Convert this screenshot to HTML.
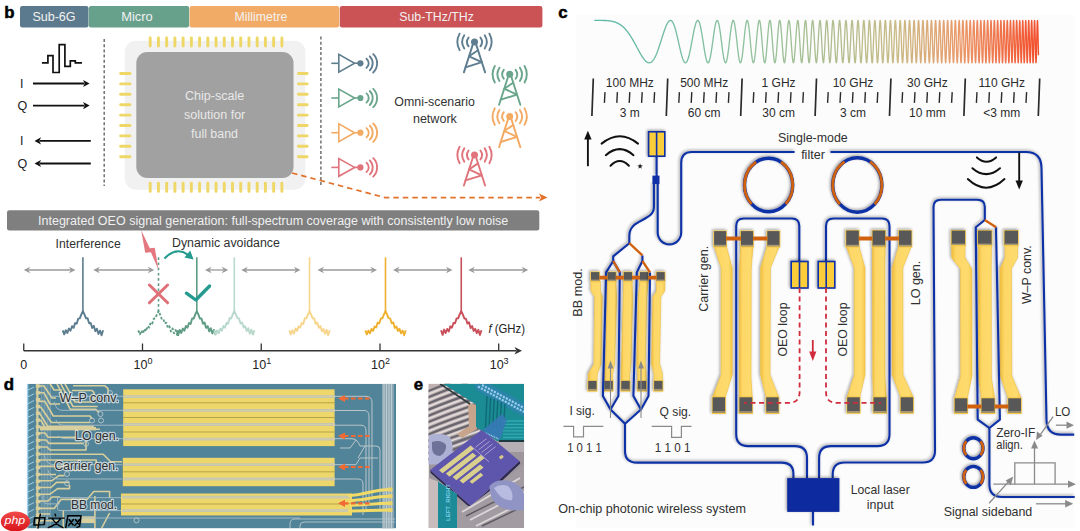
<!DOCTYPE html>
<html><head><meta charset="utf-8"><style>
html,body{margin:0;padding:0;background:#fff;width:1080px;height:531px;overflow:hidden}
svg{display:block;font-family:"Liberation Sans", sans-serif}
</style></head><body>
<svg width="1080" height="531" viewBox="0 0 1080 531">
<text x="4.2" y="17.7" font-size="16.8" font-weight="bold" fill="#000" stroke="#000" stroke-width="0.5">b</text>
<rect x="20" y="6" width="68.5" height="21.5" rx="2.2" fill="#5c7a8d"/>
<text x="54" y="21.4" font-size="12.5" fill="#f2f2f2" text-anchor="middle" textLength="43.2" lengthAdjust="spacingAndGlyphs">Sub-6G</text>
<rect x="88.8" y="6" width="100.4" height="21.5" rx="2.2" fill="#67a08b"/>
<text x="137" y="21.4" font-size="12.5" fill="#f2f2f2" text-anchor="middle" textLength="31.5" lengthAdjust="spacingAndGlyphs">Micro</text>
<rect x="189.6" y="6" width="149.7" height="21.5" rx="2.2" fill="#f2ab66"/>
<text x="261" y="21.4" font-size="12.5" fill="#f2f2f2" text-anchor="middle" textLength="52.8" lengthAdjust="spacingAndGlyphs">Millimetre</text>
<rect x="339.8" y="6" width="202.6" height="21.5" rx="2.2" fill="#cb5356"/>
<text x="436.6" y="21.4" font-size="12.5" fill="#f2f2f2" text-anchor="middle" textLength="74.6" lengthAdjust="spacingAndGlyphs">Sub-THz/THz</text>
<path d="M41.9,62.8H47.9V55.6H53V72.5H59.2V44.6H64.9V66.4H70.3V60.9H75.3V62.8H82" fill="none" stroke="#111" stroke-width="1.7"/>
<line x1="33" y1="83.5" x2="84.4" y2="83.5" stroke="#111" stroke-width="1.9"/>
<path d="M89.6,83.5L83.1,79.9L84.72,83.5L83.1,87.1Z" fill="#111"/>
<line x1="33" y1="105.6" x2="84.4" y2="105.6" stroke="#111" stroke-width="1.9"/>
<path d="M89.6,105.6L83.1,102L84.72,105.6L83.1,109.2Z" fill="#111"/>
<line x1="90.8" y1="140.9" x2="39.7" y2="140.9" stroke="#111" stroke-width="1.9"/>
<path d="M34.5,140.9L41,137.3L39.38,140.9L41,144.5Z" fill="#111"/>
<line x1="90.8" y1="163.5" x2="39.7" y2="163.5" stroke="#111" stroke-width="1.9"/>
<path d="M34.5,163.5L41,159.9L39.38,163.5L41,167.1Z" fill="#111"/>
<text x="21.8" y="87.8" font-size="12.5" fill="#222" text-anchor="middle">I</text>
<text x="22.3" y="110" font-size="12.5" fill="#222" text-anchor="middle">Q</text>
<text x="21.8" y="145.3" font-size="12.5" fill="#222" text-anchor="middle">I</text>
<text x="22.3" y="167.8" font-size="12.5" fill="#222" text-anchor="middle">Q</text>
<line x1="104.2" y1="39" x2="104.2" y2="186" stroke="#666" stroke-width="1.4" stroke-dasharray="3 2.2"/>
<line x1="320.9" y1="36.5" x2="320.9" y2="187" stroke="#666" stroke-width="1.4" stroke-dasharray="3 2.2"/>
<rect x="124.8" y="40.8" width="180.5" height="148.9" rx="11" fill="#f1f1f1"/>
<rect x="148.75" y="36.5" width="2.9" height="10.9" rx="1.4" fill="#eed767"/>
<rect x="148.75" y="181.8" width="2.9" height="11" rx="1.4" fill="#eed767"/>
<rect x="156.98" y="36.5" width="2.9" height="10.9" rx="1.4" fill="#eed767"/>
<rect x="156.98" y="181.8" width="2.9" height="11" rx="1.4" fill="#eed767"/>
<rect x="165.21" y="36.5" width="2.9" height="10.9" rx="1.4" fill="#eed767"/>
<rect x="165.21" y="181.8" width="2.9" height="11" rx="1.4" fill="#eed767"/>
<rect x="173.44" y="36.5" width="2.9" height="10.9" rx="1.4" fill="#eed767"/>
<rect x="173.44" y="181.8" width="2.9" height="11" rx="1.4" fill="#eed767"/>
<rect x="181.67" y="36.5" width="2.9" height="10.9" rx="1.4" fill="#eed767"/>
<rect x="181.67" y="181.8" width="2.9" height="11" rx="1.4" fill="#eed767"/>
<rect x="189.9" y="36.5" width="2.9" height="10.9" rx="1.4" fill="#eed767"/>
<rect x="189.9" y="181.8" width="2.9" height="11" rx="1.4" fill="#eed767"/>
<rect x="198.13" y="36.5" width="2.9" height="10.9" rx="1.4" fill="#eed767"/>
<rect x="198.13" y="181.8" width="2.9" height="11" rx="1.4" fill="#eed767"/>
<rect x="206.36" y="36.5" width="2.9" height="10.9" rx="1.4" fill="#eed767"/>
<rect x="206.36" y="181.8" width="2.9" height="11" rx="1.4" fill="#eed767"/>
<rect x="214.59" y="36.5" width="2.9" height="10.9" rx="1.4" fill="#eed767"/>
<rect x="214.59" y="181.8" width="2.9" height="11" rx="1.4" fill="#eed767"/>
<rect x="222.82" y="36.5" width="2.9" height="10.9" rx="1.4" fill="#eed767"/>
<rect x="222.82" y="181.8" width="2.9" height="11" rx="1.4" fill="#eed767"/>
<rect x="231.05" y="36.5" width="2.9" height="10.9" rx="1.4" fill="#eed767"/>
<rect x="231.05" y="181.8" width="2.9" height="11" rx="1.4" fill="#eed767"/>
<rect x="239.28" y="36.5" width="2.9" height="10.9" rx="1.4" fill="#eed767"/>
<rect x="239.28" y="181.8" width="2.9" height="11" rx="1.4" fill="#eed767"/>
<rect x="247.51" y="36.5" width="2.9" height="10.9" rx="1.4" fill="#eed767"/>
<rect x="247.51" y="181.8" width="2.9" height="11" rx="1.4" fill="#eed767"/>
<rect x="255.74" y="36.5" width="2.9" height="10.9" rx="1.4" fill="#eed767"/>
<rect x="255.74" y="181.8" width="2.9" height="11" rx="1.4" fill="#eed767"/>
<rect x="263.97" y="36.5" width="2.9" height="10.9" rx="1.4" fill="#eed767"/>
<rect x="263.97" y="181.8" width="2.9" height="11" rx="1.4" fill="#eed767"/>
<rect x="272.2" y="36.5" width="2.9" height="10.9" rx="1.4" fill="#eed767"/>
<rect x="272.2" y="181.8" width="2.9" height="11" rx="1.4" fill="#eed767"/>
<rect x="280.43" y="36.5" width="2.9" height="10.9" rx="1.4" fill="#eed767"/>
<rect x="280.43" y="181.8" width="2.9" height="11" rx="1.4" fill="#eed767"/>
<rect x="119.2" y="72.05" width="12.2" height="2.9" rx="1.4" fill="#eed767"/>
<rect x="297" y="72.05" width="11.6" height="2.9" rx="1.4" fill="#eed767"/>
<rect x="119.2" y="82.45" width="12.2" height="2.9" rx="1.4" fill="#eed767"/>
<rect x="297" y="82.45" width="11.6" height="2.9" rx="1.4" fill="#eed767"/>
<rect x="119.2" y="92.85" width="12.2" height="2.9" rx="1.4" fill="#eed767"/>
<rect x="297" y="92.85" width="11.6" height="2.9" rx="1.4" fill="#eed767"/>
<rect x="119.2" y="103.25" width="12.2" height="2.9" rx="1.4" fill="#eed767"/>
<rect x="297" y="103.25" width="11.6" height="2.9" rx="1.4" fill="#eed767"/>
<rect x="119.2" y="113.65" width="12.2" height="2.9" rx="1.4" fill="#eed767"/>
<rect x="297" y="113.65" width="11.6" height="2.9" rx="1.4" fill="#eed767"/>
<rect x="119.2" y="124.05" width="12.2" height="2.9" rx="1.4" fill="#eed767"/>
<rect x="297" y="124.05" width="11.6" height="2.9" rx="1.4" fill="#eed767"/>
<rect x="119.2" y="134.45" width="12.2" height="2.9" rx="1.4" fill="#eed767"/>
<rect x="297" y="134.45" width="11.6" height="2.9" rx="1.4" fill="#eed767"/>
<rect x="119.2" y="144.85" width="12.2" height="2.9" rx="1.4" fill="#eed767"/>
<rect x="297" y="144.85" width="11.6" height="2.9" rx="1.4" fill="#eed767"/>
<rect x="119.2" y="155.25" width="12.2" height="2.9" rx="1.4" fill="#eed767"/>
<rect x="297" y="155.25" width="11.6" height="2.9" rx="1.4" fill="#eed767"/>
<rect x="136.3" y="52" width="157.2" height="126" rx="11" fill="#a1a1a1"/>
<text x="214.6" y="100.2" font-size="12.5" fill="#e8e8e8" text-anchor="middle" textLength="59.4" lengthAdjust="spacingAndGlyphs">Chip-scale</text>
<text x="214.7" y="119.4" font-size="12.5" fill="#e8e8e8" text-anchor="middle" textLength="61.2" lengthAdjust="spacingAndGlyphs">solution for</text>
<text x="214.5" y="137.8" font-size="12.5" fill="#e8e8e8" text-anchor="middle" textLength="46.9" lengthAdjust="spacingAndGlyphs">full band</text>
<g fill="none" stroke="#5e7d8f" stroke-width="1.6" stroke-linecap="round"><line x1="331.3" y1="63.3" x2="338.8" y2="63.3" stroke-linecap="butt"/><path d="M338.8,54.4L338.8,72.2L354.6,63.3Z" stroke-linejoin="miter"/><line x1="354.6" y1="63.3" x2="359" y2="63.3"/>
<path d="M366.5,58.7A5.9,5.9 0 0 1 366.5,67.9" stroke-width="1.85"/>
<path d="M369.8,56.3A9.9,9.9 0 0 1 369.8,70.3" stroke-width="1.85"/>
<path d="M373.2,54.1A12.8,12.8 0 0 1 373.2,72.5" stroke-width="1.85"/>
</g>
<circle cx="360.4" cy="63.3" r="3.1" fill="#5e7d8f"/>
<g fill="none" stroke="#6aa68c" stroke-width="1.6" stroke-linecap="round"><line x1="331.3" y1="98" x2="338.8" y2="98" stroke-linecap="butt"/><path d="M338.8,89.1L338.8,106.9L354.6,98Z" stroke-linejoin="miter"/><line x1="354.6" y1="98" x2="359" y2="98"/>
<path d="M366.5,93.4A5.9,5.9 0 0 1 366.5,102.6" stroke-width="1.85"/>
<path d="M369.8,91A9.9,9.9 0 0 1 369.8,105" stroke-width="1.85"/>
<path d="M373.2,88.8A12.8,12.8 0 0 1 373.2,107.2" stroke-width="1.85"/>
</g>
<circle cx="360.4" cy="98" r="3.1" fill="#6aa68c"/>
<g fill="none" stroke="#f3aa62" stroke-width="1.6" stroke-linecap="round"><line x1="331.3" y1="132.7" x2="338.8" y2="132.7" stroke-linecap="butt"/><path d="M338.8,123.8L338.8,141.6L354.6,132.7Z" stroke-linejoin="miter"/><line x1="354.6" y1="132.7" x2="359" y2="132.7"/>
<path d="M366.5,128.1A5.9,5.9 0 0 1 366.5,137.3" stroke-width="1.85"/>
<path d="M369.8,125.7A9.9,9.9 0 0 1 369.8,139.7" stroke-width="1.85"/>
<path d="M373.2,123.5A12.8,12.8 0 0 1 373.2,141.9" stroke-width="1.85"/>
</g>
<circle cx="360.4" cy="132.7" r="3.1" fill="#f3aa62"/>
<g fill="none" stroke="#e0737b" stroke-width="1.6" stroke-linecap="round"><line x1="331.3" y1="167.4" x2="338.8" y2="167.4" stroke-linecap="butt"/><path d="M338.8,158.5L338.8,176.3L354.6,167.4Z" stroke-linejoin="miter"/><line x1="354.6" y1="167.4" x2="359" y2="167.4"/>
<path d="M366.5,162.8A5.9,5.9 0 0 1 366.5,172" stroke-width="1.85"/>
<path d="M369.8,160.4A9.9,9.9 0 0 1 369.8,174.4" stroke-width="1.85"/>
<path d="M373.2,158.2A12.8,12.8 0 0 1 373.2,176.6" stroke-width="1.85"/>
</g>
<circle cx="360.4" cy="167.4" r="3.1" fill="#e0737b"/>
<g fill="none" stroke="#5e7d8f" stroke-width="1.9" stroke-linecap="round"><path d="M472.7,44.9L463.9,72.4M476.3,44.9L485.1,72.4"/><path d="M478.03,50.3L469.05,56.3L481.84,62.2L465.53,67.3" stroke-linejoin="round"/><path d="M480.41,37.45A7.4,7.4 0 0 1 480.41,46.35"/><path d="M468.59,37.45A7.4,7.4 0 0 0 468.59,46.35"/><path d="M484.73,35.26A12.2,12.2 0 0 1 484.73,48.54"/><path d="M464.27,35.26A12.2,12.2 0 0 0 464.27,48.54"/><path d="M489.37,33.66A17,17 0 0 1 489.37,50.14"/><path d="M459.63,33.66A17,17 0 0 0 459.63,50.14"/></g><circle cx="474.5" cy="41.9" r="3.5" fill="#5e7d8f"/>
<g fill="none" stroke="#6aa68c" stroke-width="1.9" stroke-linecap="round"><path d="M507.9,77.3L499.1,104.8M511.5,77.3L520.3,104.8"/><path d="M513.23,82.7L504.25,88.7L517.04,94.6L500.73,99.7" stroke-linejoin="round"/><path d="M515.61,69.85A7.4,7.4 0 0 1 515.61,78.75"/><path d="M503.79,69.85A7.4,7.4 0 0 0 503.79,78.75"/><path d="M519.93,67.66A12.2,12.2 0 0 1 519.93,80.94"/><path d="M499.47,67.66A12.2,12.2 0 0 0 499.47,80.94"/><path d="M524.57,66.06A17,17 0 0 1 524.57,82.54"/><path d="M494.83,66.06A17,17 0 0 0 494.83,82.54"/></g><circle cx="509.7" cy="74.3" r="3.5" fill="#6aa68c"/>
<g fill="none" stroke="#f3aa62" stroke-width="1.9" stroke-linecap="round"><path d="M507.9,119.6L499.1,147.1M511.5,119.6L520.3,147.1"/><path d="M513.23,125L504.25,131L517.04,136.9L500.73,142" stroke-linejoin="round"/><path d="M515.61,112.15A7.4,7.4 0 0 1 515.61,121.05"/><path d="M503.79,112.15A7.4,7.4 0 0 0 503.79,121.05"/><path d="M519.93,109.96A12.2,12.2 0 0 1 519.93,123.24"/><path d="M499.47,109.96A12.2,12.2 0 0 0 499.47,123.24"/><path d="M524.57,108.36A17,17 0 0 1 524.57,124.84"/><path d="M494.83,108.36A17,17 0 0 0 494.83,124.84"/></g><circle cx="509.7" cy="116.6" r="3.5" fill="#f3aa62"/>
<g fill="none" stroke="#e0737b" stroke-width="1.9" stroke-linecap="round"><path d="M472.7,158L463.9,185.5M476.3,158L485.1,185.5"/><path d="M478.03,163.4L469.05,169.4L481.84,175.3L465.53,180.4" stroke-linejoin="round"/><path d="M480.41,150.55A7.4,7.4 0 0 1 480.41,159.45"/><path d="M468.59,150.55A7.4,7.4 0 0 0 468.59,159.45"/><path d="M484.73,148.36A12.2,12.2 0 0 1 484.73,161.64"/><path d="M464.27,148.36A12.2,12.2 0 0 0 464.27,161.64"/><path d="M489.37,146.76A17,17 0 0 1 489.37,163.24"/><path d="M459.63,146.76A17,17 0 0 0 459.63,163.24"/></g><circle cx="474.5" cy="155" r="3.5" fill="#e0737b"/>
<text x="434.6" y="105.6" font-size="12.5" fill="#333" text-anchor="middle" textLength="80.5" lengthAdjust="spacingAndGlyphs">Omni-scenario</text>
<text x="434.9" y="122.5" font-size="12.5" fill="#333" text-anchor="middle" textLength="44" lengthAdjust="spacingAndGlyphs">network</text>
<path d="M292,173L385,197.6H540" fill="none" stroke="#e2722c" stroke-width="1.7" stroke-dasharray="5.5 4"/>
<path d="M547.5,197.6L539,193.6L541,197.6L539,201.6Z" fill="#e2722c"/>
<rect x="7" y="210.2" width="532.3" height="20.3" rx="2.2" fill="#7f7f7f"/>
<text x="38" y="225.1" font-size="12.5" fill="#f0f0f0" textLength="470.3" lengthAdjust="spacingAndGlyphs">Integrated OEO signal generation: full-spectrum coverage with consistently low noise</text>
<text x="55.6" y="247.8" font-size="12.5" fill="#303030" textLength="65.1" lengthAdjust="spacingAndGlyphs">Interference</text>
<text x="172" y="247.4" font-size="12.5" fill="#303030" textLength="107.9" lengthAdjust="spacingAndGlyphs">Dynamic avoidance</text>
<line x1="23.75" y1="350.75" x2="516" y2="350.75" stroke="#333" stroke-width="1.3"/>
<path d="M522,350.75L514.5,347L516.5,350.75L514.5,354.5Z" fill="#333"/>
<line x1="23.75" y1="343.5" x2="23.75" y2="350.75" stroke="#333" stroke-width="1.3"/>
<line x1="142.5" y1="343.5" x2="142.5" y2="350.75" stroke="#333" stroke-width="1.3"/>
<line x1="261.25" y1="343.5" x2="261.25" y2="350.75" stroke="#333" stroke-width="1.3"/>
<line x1="380" y1="343.5" x2="380" y2="350.75" stroke="#333" stroke-width="1.3"/>
<line x1="498.7" y1="343.5" x2="498.7" y2="350.75" stroke="#333" stroke-width="1.3"/>
<text x="23.75" y="369" font-size="12.5" fill="#222" text-anchor="middle">0</text>
<text x="133.5" y="369" font-size="12.5" fill="#222">10<tspan dy="-5" font-size="9">0</tspan></text>
<text x="252.25" y="369" font-size="12.5" fill="#222">10<tspan dy="-5" font-size="9">1</tspan></text>
<text x="371" y="369" font-size="12.5" fill="#222">10<tspan dy="-5" font-size="9">2</tspan></text>
<text x="489.7" y="369" font-size="12.5" fill="#222">10<tspan dy="-5" font-size="9">3</tspan></text>
<text x="488.4" y="333.3" font-size="12.2" fill="#222" textLength="36.6" lengthAdjust="spacingAndGlyphs"><tspan font-style="italic">f</tspan> (GHz)</text>
<line x1="28.3" y1="270" x2="70.95" y2="270" stroke="#9a9a9a" stroke-width="1.3"/>
<path d="M23.75,270L30.25,266.7L28.3,270L30.25,273.3Z" fill="#9a9a9a"/>
<path d="M75.5,270L69,266.7L70.95,270L69,273.3Z" fill="#9a9a9a"/>
<line x1="97.8" y1="270" x2="149.7" y2="270" stroke="#9a9a9a" stroke-width="1.3"/>
<path d="M93.25,270L99.75,266.7L97.8,270L99.75,273.3Z" fill="#9a9a9a"/>
<path d="M154.25,270L147.75,266.7L149.7,270L147.75,273.3Z" fill="#9a9a9a"/>
<line x1="209.55" y1="270" x2="223.7" y2="270" stroke="#9a9a9a" stroke-width="1.3"/>
<path d="M205,270L211.5,266.7L209.55,270L211.5,273.3Z" fill="#9a9a9a"/>
<path d="M228.25,270L221.75,266.7L223.7,270L221.75,273.3Z" fill="#9a9a9a"/>
<line x1="245.8" y1="270" x2="295.95" y2="270" stroke="#9a9a9a" stroke-width="1.3"/>
<path d="M241.25,270L247.75,266.7L245.8,270L247.75,273.3Z" fill="#9a9a9a"/>
<path d="M300.5,270L294,266.7L295.95,270L294,273.3Z" fill="#9a9a9a"/>
<line x1="322.05" y1="270" x2="372.45" y2="270" stroke="#9a9a9a" stroke-width="1.3"/>
<path d="M317.5,270L324,266.7L322.05,270L324,273.3Z" fill="#9a9a9a"/>
<path d="M377,270L370.5,266.7L372.45,270L370.5,273.3Z" fill="#9a9a9a"/>
<line x1="397.55" y1="270" x2="447.95" y2="270" stroke="#9a9a9a" stroke-width="1.3"/>
<path d="M393,270L399.5,266.7L397.55,270L399.5,273.3Z" fill="#9a9a9a"/>
<path d="M452.5,270L446,266.7L447.95,270L446,273.3Z" fill="#9a9a9a"/>
<line x1="472.8" y1="270" x2="523.7" y2="270" stroke="#9a9a9a" stroke-width="1.3"/>
<path d="M468.25,270L474.75,266.7L472.8,270L474.75,273.3Z" fill="#9a9a9a"/>
<path d="M528.25,270L521.75,266.7L523.7,270L521.75,273.3Z" fill="#9a9a9a"/>
<g opacity="1"><path d="M62.7,330.3L64.25,334.37L65.81,330.14L67.36,333.03L68.92,328.57L70.47,330.73L72.02,326.22L73.58,327.85L75.13,323.03L76.68,323.69L78.24,318.6L79.79,318.32L81.35,314.33L82.9,311.3L82.9,311L82.9,311.3L84.45,314.33L86.01,318.38L87.56,318.14L89.12,323.3L90.67,322.91L92.22,327.93L93.78,325.71L95.33,331.21L96.88,328.68L98.44,333.98L99.99,330.55L101.55,335.24L103.1,330.3" fill="none" stroke="#5c7d8f" stroke-width="1.9" stroke-linejoin="round"/><line x1="82.9" y1="257.3" x2="82.9" y2="313" stroke="#5c7d8f" stroke-width="1.6"/></g>
<g opacity="1"><path d="M138.3,330.3L139.85,334.36L141.41,330.53L142.96,333.55L144.52,328.7L146.07,331.27L147.62,326.03L149.18,327.56L150.73,322.44L152.28,323.44L153.84,318.63L155.39,318.2L156.95,314.33L158.5,311.3L158.5,311L158.5,311.3L160.05,314.33L161.61,318.55L163.16,318.41L164.72,323.44L166.27,322.62L167.82,327.78L169.38,326.28L170.93,331.41L172.48,328.39L174.04,333.24L175.59,329.99L177.15,334.87L178.7,330.3" fill="none" stroke="#5f9c84" stroke-width="1.9" stroke-linejoin="round" stroke-dasharray="2.5 1.8"/><line x1="158.5" y1="257.3" x2="158.5" y2="313" stroke="#5f9c84" stroke-width="1.6" stroke-dasharray="2.6 2.6"/></g>
<g opacity="1"><path d="M176.6,330.3L178.15,335.14L179.71,329.89L181.26,333.03L182.82,328.59L184.37,330.82L185.92,325.88L187.48,327.75L189.03,322.99L190.58,323.93L192.14,318.51L193.69,318.58L195.25,314.33L196.8,311.3L196.8,311L196.8,311.3L198.35,314.33L199.91,318.67L201.46,318.49L203.02,323.72L204.57,322.62L206.12,327.89L207.68,326.14L209.23,331.45L210.78,328.15L212.34,333.47L213.89,329.9L215.45,334.36L217,330.3" fill="none" stroke="#5f9c84" stroke-width="1.9" stroke-linejoin="round"/><line x1="196.8" y1="257.3" x2="196.8" y2="313" stroke="#5f9c84" stroke-width="1.6"/></g>
<g opacity="1"><path d="M214.1,330.3L215.65,334.36L217.21,330.48L218.76,333.16L220.32,328.62L221.87,330.7L223.42,325.96L224.98,327.73L226.53,322.86L228.08,323.82L229.64,318.02L231.19,318.53L232.75,314.33L234.3,311.3L234.3,311L234.3,311.3L235.85,314.33L237.41,318.19L238.96,318.54L240.52,323.5L242.07,322.4L243.62,327.48L245.18,326.15L246.73,331.18L248.28,328.21L249.84,333.82L251.39,329.69L252.95,334.6L254.5,330.3" fill="none" stroke="#b9d9cd" stroke-width="1.9" stroke-linejoin="round"/><line x1="234.3" y1="257.3" x2="234.3" y2="313" stroke="#b9d9cd" stroke-width="1.6"/></g>
<g opacity="1"><path d="M289.3,330.3L290.85,334.3L292.41,330.32L293.96,333.59L295.52,328.59L297.07,330.89L298.62,326.34L300.18,327.55L301.73,322.96L303.28,323.91L304.84,318.1L306.39,318.34L307.95,314.33L309.5,311.3L309.5,311L309.5,311.3L311.05,314.33L312.61,318.35L314.16,318.32L315.72,323.91L317.27,322.54L318.82,327.83L320.38,326L321.93,331.3L323.48,329.01L325.04,333.9L326.59,329.77L328.15,335.26L329.7,330.3" fill="none" stroke="#f7d58c" stroke-width="1.9" stroke-linejoin="round"/><line x1="309.5" y1="257.3" x2="309.5" y2="313" stroke="#f7d58c" stroke-width="1.6"/></g>
<g opacity="1"><path d="M365.3,330.3L366.85,334.29L368.41,330.54L369.96,333.34L371.52,328.91L373.07,330.87L374.62,326.48L376.18,327.46L377.73,322.59L379.28,323.29L380.84,318.43L382.39,318.36L383.95,314.33L385.5,311.3L385.5,311L385.5,311.3L387.05,314.33L388.61,318.18L390.16,318.46L391.72,323.23L393.27,322.4L394.82,327.92L396.38,326.41L397.93,330.91L399.48,328.73L401.04,333.36L402.59,330.47L404.15,335.23L405.7,330.3" fill="none" stroke="#efb02f" stroke-width="1.9" stroke-linejoin="round"/><line x1="385.5" y1="257.3" x2="385.5" y2="313" stroke="#efb02f" stroke-width="1.6"/></g>
<g opacity="1"><path d="M441.05,330.3L442.6,334.87L444.16,329.59L445.71,333.01L447.27,328.91L448.82,331.44L450.37,326.31L451.93,327.69L453.48,323L455.03,323.27L456.59,318.37L458.14,318.41L459.7,314.33L461.25,311.3L461.25,311L461.25,311.3L462.8,314.33L464.36,318.46L465.91,318.69L467.47,323.6L469.02,322.32L470.57,328.12L472.13,325.93L473.68,330.92L475.23,328.71L476.79,333.16L478.34,329.78L479.9,334.88L481.45,330.3" fill="none" stroke="#c9505b" stroke-width="1.9" stroke-linejoin="round"/><line x1="461.25" y1="257.3" x2="461.25" y2="313" stroke="#c9505b" stroke-width="1.6"/></g>
<path d="M149.4,285L167.6,302.8M167.6,285L149.4,302.8" stroke="#e07078" stroke-width="3" stroke-linecap="round"/>
<path d="M186.4,293.2L195.8,300L209.6,286" fill="none" stroke="#259a8e" stroke-width="3.3" stroke-linecap="round" stroke-linejoin="round"/>
<path d="M141.2,230.3L149.8,248.3L154.8,247.8L158.4,269.6L150.9,252.3L145.2,252.7Z" fill="#e47880"/>
<path d="M164.4,258.5Q176,246.5 187.8,254.6" fill="none" stroke="#259a8e" stroke-width="2"/>
<path d="M193.6,259.6L184.4,257.6L190.2,250.6Z" fill="#259a8e"/>
<text x="3.7" y="389.5" font-size="16.8" font-weight="bold" fill="#000" stroke="#000" stroke-width="0.5">d</text>
<defs><clipPath id="cd"><rect x="26.8" y="383.8" width="369.2" height="144.6"/></clipPath></defs>
<g clip-path="url(#cd)">
<rect x="26.8" y="383.8" width="369.2" height="144.6" fill="#518399"/>
<line x1="27.6" y1="383.8" x2="27.6" y2="528.4" stroke="#9fd4ec" stroke-width="1.4"/>
<path d="M28,390L34,387M28,396.8L34,393.8M28,403.6L34,400.6M28,410.4L34,407.4M28,417.2L34,414.2M28,424L34,421M28,430.8L34,427.8M28,437.6L34,434.6M28,444.4L34,441.4M28,451.2L34,448.2M28,458L34,455M28,464.8L34,461.8M28,471.6L34,468.6M28,478.4L34,475.4M28,485.2L34,482.2M28,492L34,489M28,498.8L34,495.8M28,505.6L34,502.6M28,512.4L34,509.4M28,519.2L34,516.2M28,526L34,523M28,532.8L34,529.8" stroke="#a8d8ee" stroke-width="0.9" fill="none"/>
<path d="M41.5,384V528M43,384V528M44.5,384V528M46,384V528M47.5,384V528M49,384V528M50.5,384V528" stroke="#a9bfc8" stroke-width="0.5" fill="none" opacity="0.8"/>
<rect x="36.3" y="383.8" width="2.2" height="144.6" fill="#d9cf9c"/>
<rect x="35.8" y="384.4" width="4.6" height="3.2" fill="#d9cf9c"/><rect x="35.8" y="391.2" width="4.6" height="3.2" fill="#d9cf9c"/><rect x="35.8" y="398" width="4.6" height="3.2" fill="#d9cf9c"/><rect x="35.8" y="404.8" width="4.6" height="3.2" fill="#d9cf9c"/><rect x="35.8" y="411.6" width="4.6" height="3.2" fill="#d9cf9c"/><rect x="35.8" y="418.4" width="4.6" height="3.2" fill="#d9cf9c"/><rect x="35.8" y="425.2" width="4.6" height="3.2" fill="#d9cf9c"/><rect x="35.8" y="432" width="4.6" height="3.2" fill="#d9cf9c"/><rect x="35.8" y="438.8" width="4.6" height="3.2" fill="#d9cf9c"/><rect x="35.8" y="445.6" width="4.6" height="3.2" fill="#d9cf9c"/><rect x="35.8" y="452.4" width="4.6" height="3.2" fill="#d9cf9c"/><rect x="35.8" y="459.2" width="4.6" height="3.2" fill="#d9cf9c"/><rect x="35.8" y="466" width="4.6" height="3.2" fill="#d9cf9c"/><rect x="35.8" y="472.8" width="4.6" height="3.2" fill="#d9cf9c"/><rect x="35.8" y="479.6" width="4.6" height="3.2" fill="#d9cf9c"/><rect x="35.8" y="486.4" width="4.6" height="3.2" fill="#d9cf9c"/><rect x="35.8" y="493.2" width="4.6" height="3.2" fill="#d9cf9c"/><rect x="35.8" y="500" width="4.6" height="3.2" fill="#d9cf9c"/><rect x="35.8" y="506.8" width="4.6" height="3.2" fill="#d9cf9c"/><rect x="35.8" y="513.6" width="4.6" height="3.2" fill="#d9cf9c"/><rect x="35.8" y="520.4" width="4.6" height="3.2" fill="#d9cf9c"/>
<path d="M57,383.8L70.3,409.4H95.7L99,412.6M60.8,383.8L73,406.5H97.6M65,383.8L75,402H93M73,385.8H105L108,388.6V394M72,390.5H92L94,392.4V400M50,383.8L54,390H62M38,386H44L52,398H56M38,392.8H44L50,404H60M38,401.4H44.8L53.3,416H90L92,418.8M38,407.5H41L51.4,422.5H90M38,414H40L47.7,426.3H93.8M38,420.5H41L46,429.2H100M38,427H93.8M38,433H45L48,437.2H76.8M38,440H46L49,443.4H83.4M38,447H47L50,450H86V441M38,454.2H103.2L110.7,461.7H122M38,460H96.2V468M38,466.4H70L73,470H88M38,474.5H56M38,480.7H52L58.8,475.6H64.4M38,487.5H51L56.5,482.4H69M38,494.3H49.7L57.6,488.6H69.5V485M38,501H48L52,497H60M38,508.4H54.2L61,499.4H87L93.8,491.5H109.6V498M94.9,496V528M63.3,510V528M109.6,513L101.7,528M38,514H50M38,520.8H60" stroke="#d9cf9c" stroke-width="1.6" fill="none" stroke-linejoin="round"/>
<rect x="81.4" y="516.3" width="13.5" height="6.8" fill="#d9cf9c"/>
<rect x="40" y="427" width="56" height="3.4" fill="#d9cf9c"/>
<path d="M54.2,401.8Q56,410.3 62,410.3H123M50,396.3H123M56,420Q57,425.2 64,425.2H123M58,436Q60,438.7 66,438.7H123M44,455Q46,464.7 54,464.7H122M48,470Q50,479 58,479H122M43,494.9V500Q43,503.9 48,503.9H60M57.6,497.7H121M57.6,497.7V509.5Q57.6,510.6 62,510.6H121M36,518H300" stroke="#a9bec8" stroke-width="0.9" fill="none"/>
<circle cx="100.4" cy="414" r="2.5" fill="none" stroke="#b8c8cc" stroke-width="0.9"/>
<circle cx="101" cy="420.5" r="2.5" fill="none" stroke="#b8c8cc" stroke-width="0.9"/>
<circle cx="92" cy="420.5" r="2.5" fill="none" stroke="#b8c8cc" stroke-width="0.9"/>
<circle cx="86" cy="443.8" r="2.5" fill="none" stroke="#b8c8cc" stroke-width="0.9"/>
<circle cx="67" cy="474" r="2.5" fill="none" stroke="#b8c8cc" stroke-width="0.9"/>
<circle cx="67" cy="483.2" r="2.5" fill="none" stroke="#b8c8cc" stroke-width="0.9"/>
<circle cx="110" cy="393" r="2.5" fill="none" stroke="#b8c8cc" stroke-width="0.9"/>
<circle cx="136.5" cy="520.4" r="2.5" fill="none" stroke="#b8c8cc" stroke-width="0.9"/>
<rect x="123.2" y="389.3" width="211.4" height="56.8" fill="#edd66a"/>
<rect x="122.8" y="457.8" width="211.8" height="28.4" fill="#edd66a"/>
<path d="M121,493.4H352V515.5H121Z" fill="#edd66a"/>
<path d="M123,402.8H335M123,417.5H335M123,432H335M123,471.8H335M121,504H360" stroke="#b5a548" stroke-width="1" fill="none"/>
<path d="M123.5,396.6H335M123.5,410.4H335M123.5,424.5H335M123.5,439.1H335M123.5,464.7H335M123.5,479H335M122,497.2H350M122,510.6H350" stroke="#c5c6b2" stroke-width="2.8" fill="none"/>
<path d="M123.5,396.6H335M123.5,410.4H335M123.5,424.5H335M123.5,439.1H335M123.5,464.7H335M123.5,479H335M122,497.2H350M122,510.6H350" stroke="#d6d2a6" stroke-width="0.6" fill="none"/>
<path d="M335,396.3H366Q372,396.3 372,402V500M335,410.5H364Q369,410.5 369,416V505M335,425.2H361Q366,425.2 366,431V510M335,438.7H352Q356,438.7 358,442L360,446H376Q380,446 380,450V512M335,464.7H356L360,458H378M335,479H358Q363,479 363,484V515M340,448H350L356,440M365,446L358,458" stroke="#b9c6c9" stroke-width="1" fill="none"/>
<rect x="382" y="383.8" width="11.8" height="144.6" fill="#8fa9b5"/>
<path d="M384,384V528M386.5,384V528M389,384V528M391.5,384V528" stroke="#c8d4d8" stroke-width="0.8"/>
<path d="M348,495.5C365,495.5 372,489.5 390,489.5M348,500.5C365,500.5 372,496.3 390,496.3M348,505.5C365,505.5 372,503.2 390,503.2M348,511C365,511 372,510 390,510" stroke="#f1db66" stroke-width="3" fill="none"/>
<path d="M388,487.5h4.5v4h-4.5zM388,494.3h4.5v4h-4.5zM388,501.2h4.5v4h-4.5zM388,508h4.5v4h-4.5z" fill="#e9d36a"/>
<path d="M290,528V524Q290,519 295,519H395M300,528V526Q300,522 304,522H395" stroke="#b8c8cc" stroke-width="0.9" fill="none"/>
<line x1="344" y1="398.5" x2="372" y2="398.5" stroke="#f26a33" stroke-width="2.2" stroke-dasharray="4.5 2.5"/>
<path d="M338,398.5L345,394.9L345,402.1Z" fill="#f26a33"/>
<line x1="344" y1="436" x2="372" y2="436" stroke="#f26a33" stroke-width="2.2" stroke-dasharray="4.5 2.5"/>
<path d="M338,436L345,432.4L345,439.6Z" fill="#f26a33"/>
<line x1="344" y1="467" x2="372" y2="467" stroke="#f26a33" stroke-width="2.2" stroke-dasharray="4.5 2.5"/>
<path d="M338,467L345,463.4L345,470.6Z" fill="#f26a33"/>
<line x1="344" y1="503.3" x2="372" y2="503.3" stroke="#f26a33" stroke-width="2.2" stroke-dasharray="4.5 2.5"/>
<path d="M338,503.3L345,499.7L345,506.9Z" fill="#f26a33"/>
</g>
<text x="59.8" y="401.8" font-size="12.4" fill="#e8eef0" stroke="#e8eef0" stroke-width="2.4" stroke-linejoin="round" opacity="0.75" textLength="59.1" lengthAdjust="spacingAndGlyphs">W–P conv.</text>
<text x="59.8" y="401.8" font-size="12.4" fill="#2e2e2e" textLength="59.1" lengthAdjust="spacingAndGlyphs">W–P conv.</text>
<text x="75" y="440.3" font-size="12.4" fill="#e8eef0" stroke="#e8eef0" stroke-width="2.4" stroke-linejoin="round" opacity="0.75" textLength="44" lengthAdjust="spacingAndGlyphs">LO gen.</text>
<text x="75" y="440.3" font-size="12.4" fill="#2e2e2e" textLength="44" lengthAdjust="spacingAndGlyphs">LO gen.</text>
<text x="54.4" y="470.3" font-size="12.4" fill="#e8eef0" stroke="#e8eef0" stroke-width="2.4" stroke-linejoin="round" opacity="0.75" textLength="64" lengthAdjust="spacingAndGlyphs">Carrier gen.</text>
<text x="54.4" y="470.3" font-size="12.4" fill="#2e2e2e" textLength="64" lengthAdjust="spacingAndGlyphs">Carrier gen.</text>
<text x="70.9" y="508.7" font-size="12.4" fill="#e8eef0" stroke="#e8eef0" stroke-width="2.4" stroke-linejoin="round" opacity="0.75" textLength="46.3" lengthAdjust="spacingAndGlyphs">BB mod.</text>
<text x="70.9" y="508.7" font-size="12.4" fill="#2e2e2e" textLength="46.3" lengthAdjust="spacingAndGlyphs">BB mod.</text>
<text x="413.8" y="390.2" font-size="16.8" font-weight="bold" fill="#000" stroke="#000" stroke-width="0.5">e</text>
<defs><clipPath id="ce"><rect x="428.5" y="383.8" width="95.6" height="144.2"/></clipPath><linearGradient id="gsil" x1="0" y1="0" x2="1" y2="1"><stop offset="0" stop-color="#8e8a92"/><stop offset="1" stop-color="#c9c5c9"/></linearGradient></defs>
<g clip-path="url(#ce)">
<rect x="428.5" y="383.8" width="95.6" height="144.2" fill="#9d979d"/>
<path d="M428.5,383.8H440L470,403V430L452,440L428.5,452Z" fill="#bfb2b0"/>
<path d="M426,392Q450,382 480,372M426,398.2Q450,388.2 480,378.2M426,404.4Q450,394.4 480,384.4M426,410.6Q450,400.6 480,390.6M426,416.8Q450,406.8 480,396.8M426,423Q450,413 480,403M426,429.2Q450,419.2 480,409.2M426,435.4Q450,425.4 480,415.4M426,441.6Q450,431.6 480,421.6M426,447.8Q450,437.8 480,427.8M426,454Q450,444 480,434M426,460.2Q450,450.2 480,440.2" stroke="#6a6670" stroke-width="2.2" fill="none"/>
<path d="M426,395Q450,385 480,375M426,401.2Q450,391.2 480,381.2M426,407.4Q450,397.4 480,387.4M426,413.6Q450,403.6 480,393.6M426,419.8Q450,409.8 480,399.8M426,426Q450,416 480,406M426,432.2Q450,422.2 480,412.2M426,438.4Q450,428.4 480,418.4M426,444.6Q450,434.6 480,424.6M426,450.8Q450,440.8 480,430.8M426,457Q450,447 480,437M426,463.2Q450,453.2 480,443.2" stroke="#e2dcdc" stroke-width="1.6" fill="none"/>
<path d="M468,403L477,405V429L462,438L457,434L469,426Z" fill="#c7a58c"/><path d="M440,383.8L470,404" stroke="#2c3a3c" stroke-width="1.6" fill="none"/>
<path d="M443,383.8H524.1V441H497L476,427V404.6Z" fill="#1b8b94"/>
<path d="M474,384H490L524,403V417L476,390Z" fill="#3f7fc4" opacity="0.45"/>
<path d="M478,386.5L524,412M482,385L524,408" stroke="#9ccbf0" stroke-width="2.2" stroke-dasharray="2.2 1.2" fill="none"/>
<path d="M487,396L485.5,428M490.6,397.5L489.1,428M494.2,399L492.7,428M497.8,400.5L496.3,428M501.4,402L499.9,428M505,403.5L503.5,428" stroke="#0f6a75" stroke-width="1.4" fill="none"/>
<path d="M503,421H524M503,424.3H524M503,427.6H524M503,430.9H524M503,434.2H524M503,437.5H524" stroke="#30aab2" stroke-width="1.3" fill="none"/>
<path d="M484,429L502,414L507,420L500,440L487,436Z" fill="#3a78b8" opacity="0.85"/>
<path d="M481,431L499,439" stroke="#a8c8e8" stroke-width="1.5" stroke-dasharray="1 0.8"/>
<rect x="499" y="440" width="26" height="2" fill="#1c3a40"/><rect x="499" y="442" width="26" height="10" fill="#b6b0b4"/>
<path d="M428.5,436Q440,431 450,437Q455,448 451,460Q440,466 428.5,464Z" fill="#adb1d4"/>
<path d="M432,442Q441,439 446,445Q447,452 440,456Q433,456 432,449Z" fill="#6e7298"/>
<path d="M430.1,470.1L471,506L519.5,460.9L520.3,463.4L471.8,509.2L430.6,473.1Z" fill="#2e2a52"/>
<path d="M430.1,470.1L481.9,429.8L519.5,460.9L471,506Z" fill="#5e55ac"/>
<path d="M439.03,470.13L470.63,445.57L474.22,448.76L442.62,473.32ZM445.84,473.55L472.7,452.68L476.3,455.87L449.44,476.74ZM452.66,476.97L481.1,454.87L484.69,458.06L456.25,480.16ZM459.48,480.39L480.02,464.43L483.61,467.62L463.07,483.58ZM469.57,481.46L480.62,472.86L483.24,475.19L472.18,483.78Z" fill="#d9d08e"/>
<path d="M475.5,447.27L486.56,438.67M478.49,449.92L489.55,441.33M481.48,452.58L492.54,443.98M484.48,455.24L495.54,446.64M470.93,445.84L488.88,461.78" stroke="#b8a8d8" stroke-width="0.9" fill="none"/>
<rect x="499.35" y="455.56" width="4" height="3" fill="#d8c888" transform="rotate(-38 501.35 457.06)"/>
<path d="M428.5,478L438,481.5L457,494V528H428.5Z" fill="#c9bcbc"/>
<path d="M438,481.5L457,494V528H438Z" fill="#1c8a97"/>
<text x="0" y="0" font-size="6" fill="#7fd0ea" transform="translate(450 521) rotate(-90)" font-weight="bold">LEFT_RIGHT</text>
<path d="M457,528V505L470,506L522,466H524.1V528Z" fill="#a29ca2"/>
<path d="M470,520L524,492M476,526L524,502M462,512L520,478" stroke="#dcd6d8" stroke-width="1.8" fill="none"/><path d="M466,516L524,487M482,526L524,506" stroke="#5e5a62" stroke-width="1.4" fill="none"/>
<path d="M489.5,486Q496,478 510,481Q524,486 524,496V510Q512,512 500,507Q489,500 489.5,486Z" fill="#9094c4"/>
<path d="M494,488Q500,483 508,486Q514,492 512,500Q502,502 494,488Z" fill="#b8bce0"/>
</g>
<defs><linearGradient id="gphp" x1="0" y1="0" x2="0" y2="1"><stop offset="0" stop-color="#f04a4a"/><stop offset="1" stop-color="#d8141a"/></linearGradient></defs>
<ellipse cx="15.4" cy="521.5" rx="14.6" ry="10" fill="url(#gphp)"/>
<text x="4.6" y="524" font-size="11.5" font-style="italic" fill="#fff" textLength="20.6" lengthAdjust="spacingAndGlyphs">php</text>
<g fill="none" stroke="#000" stroke-width="1.45" stroke-linecap="round" stroke-linejoin="round"><path d="M34.6,518L45,517.6L44.2,524.6L33.8,525Z M40.3,514.2L38,528"/><path d="M55.1,514.2L55.6,515.8 M48.6,518.1H64.4 M52.2,518.3Q55,524 63,527.6 M60.6,518.3Q57,524.5 48.2,527.6"/><path d="M67.8,515.8L65.8,527.6 M67.8,515.8H81 L79.6,526.4 L77,527.4 M69,519.5L73.2,525 M73.4,519.5L68.6,525.6 M75.4,519.5L79.4,524.6 M79.6,519.5L74.8,525.6"/></g>
<rect x="576" y="14.7" width="498" height="513.5" fill="#fcfcfc"/>
<text x="558.2" y="18" font-size="16.8" font-weight="bold" fill="#000" stroke="#000" stroke-width="0.5">c</text>
<defs><linearGradient id="gch" x1="594" y1="0" x2="1039" y2="0" gradientUnits="userSpaceOnUse"><stop offset="0" stop-color="#5ab8a8"/><stop offset="0.35" stop-color="#92c29e"/><stop offset="0.68" stop-color="#c9bb86"/><stop offset="0.82" stop-color="#eb9a6a"/><stop offset="0.92" stop-color="#f07048"/><stop offset="1" stop-color="#f24e2a"/></linearGradient><linearGradient id="gst" x1="0" y1="0" x2="1" y2="0"><stop offset="0" stop-color="#f0bd3c"/><stop offset="0.22" stop-color="#fdd767"/><stop offset="0.8" stop-color="#fedb6e"/><stop offset="1" stop-color="#f4c74a"/></linearGradient><filter id="sh" x="-20%" y="-20%" width="140%" height="140%"><feGaussianBlur in="SourceAlpha" stdDeviation="1.6"/><feOffset dx="-0.8" dy="-0.6" result="b"/><feComponentTransfer><feFuncA type="linear" slope="0.4"/></feComponentTransfer><feMerge><feMergeNode/><feMergeNode in="SourceGraphic"/></feMerge></filter></defs>
<path d="M594.30,20.4L594.80,20.4L595.30,20.4L595.80,20.4L596.30,20.4L596.80,20.4L597.30,20.4L597.80,20.4L598.30,20.4L598.80,20.4L599.30,20.4L599.80,20.4L600.30,20.4L600.80,20.4L601.30,20.4L601.80,20.4L602.30,20.4L602.80,20.4L603.30,20.5L603.80,20.5L604.30,20.5L604.80,20.5L605.30,20.5L605.80,20.5L606.30,20.6L606.80,20.6L607.30,20.6L607.80,20.7L608.30,20.7L608.80,20.8L609.30,20.8L609.80,20.9L610.30,21.0L610.80,21.1L611.30,21.1L611.80,21.2L612.30,21.3L612.80,21.5L613.30,21.6L613.80,21.7L614.30,21.9L614.80,22.0L615.30,22.2L615.80,22.4L616.30,22.6L616.80,22.8L617.30,23.0L617.80,23.2L618.30,23.5L618.80,23.8L619.30,24.1L619.80,24.4L620.30,24.7L620.80,25.1L621.30,25.4L621.80,25.8L622.30,26.2L622.80,26.6L623.30,27.1L623.80,27.6L624.30,28.1L624.80,28.6L625.30,29.1L625.80,29.7L626.30,30.2L626.80,30.9L627.30,31.5L627.80,32.1L628.30,32.8L628.80,33.5L629.30,34.2L629.80,35.0L630.30,35.7L630.80,36.5L631.30,37.3L631.80,38.1L632.30,38.9L632.80,39.8L633.30,40.7L633.80,41.6L634.30,42.4L634.80,43.3L635.30,44.3L635.80,45.2L636.30,46.1L636.80,47.0L637.30,48.0L637.80,48.9L638.30,49.8L638.80,50.7L639.30,51.7L639.80,52.6L640.30,53.4L640.80,54.3L641.30,55.1L641.80,56.0L642.30,56.7L642.80,57.5L643.30,58.2L643.80,58.9L644.30,59.5L644.80,60.1L645.30,60.7L645.80,61.2L646.30,61.6L646.80,62.0L647.30,62.3L647.80,62.5L648.30,62.7L648.80,62.8L649.30,62.8L649.80,62.7L650.30,62.6L650.80,62.4L651.30,62.1L651.80,61.7L652.30,61.2L652.80,60.7L653.30,60.0L653.80,59.3L654.30,58.5L654.80,57.6L655.30,56.6L655.80,55.6L656.30,54.4L656.80,53.2L657.30,51.9L657.80,50.6L658.30,49.2L658.80,47.8L659.30,46.3L659.80,44.8L660.30,43.2L660.80,41.6L661.30,40.0L661.80,38.4L662.30,36.8L662.80,35.3L663.30,33.7L663.80,32.2L664.30,30.7L664.80,29.3L665.30,28.0L665.80,26.7L666.30,25.5L666.80,24.4L667.30,23.5L667.80,22.6L668.30,21.9L668.80,21.3L669.30,20.9L669.80,20.6L670.30,20.4L670.80,20.4L671.30,20.6L671.80,21.0L672.30,21.6L672.80,22.4L673.30,23.4L673.80,24.5L674.30,25.8L674.80,27.3L675.30,29.0L675.80,30.7L676.30,32.7L676.80,34.7L677.30,36.8L677.80,39.0L678.30,41.2L678.80,43.4L679.30,45.7L679.80,47.9L680.30,50.0L680.80,52.1L681.30,54.1L681.80,55.9L682.30,57.5L682.80,59.0L683.30,60.3L683.80,61.3L684.30,62.1L684.80,62.6L685.30,62.8L685.80,62.7L686.30,62.4L686.80,61.7L687.30,60.8L687.80,59.6L688.30,58.1L688.80,56.3L689.30,54.3L689.80,52.2L690.30,49.8L690.80,47.3L691.30,44.7L691.80,42.0L692.30,39.3L692.80,36.6L693.30,34.0L693.80,31.5L694.30,29.1L694.80,27.0L695.30,25.1L695.80,23.4L696.30,22.1L696.80,21.2L697.30,20.6L697.80,20.4L698.30,20.6L698.80,21.3L699.30,22.4L699.80,23.9L700.30,25.8L700.80,28.0L701.30,30.6L701.80,33.5L702.30,36.5L702.80,39.7L703.30,42.9L703.80,46.2L704.30,49.3L704.80,52.3L705.30,55.0L705.80,57.4L706.30,59.5L706.80,61.1L707.30,62.2L707.80,62.7L708.30,62.7L708.80,62.2L709.30,61.1L709.80,59.4L710.30,57.3L710.80,54.7L711.30,51.7L711.80,48.4L712.30,44.9L712.80,41.2L713.30,37.6L713.80,34.1L714.30,30.7L714.80,27.7L715.30,25.1L715.80,23.0L716.30,21.5L716.80,20.6L717.30,20.4L717.80,20.9L718.30,22.1L718.80,23.9L719.30,26.3L719.80,29.3L720.30,32.7L720.80,36.4L721.30,40.3L721.80,44.3L722.30,48.3L722.80,52.0L723.30,55.3L723.80,58.1L724.30,60.4L724.80,61.9L725.30,62.7L725.80,62.7L726.30,61.8L726.80,60.2L727.30,57.8L727.80,54.7L728.30,51.1L728.80,47.1L729.30,42.8L729.80,38.5L730.30,34.2L730.80,30.3L731.30,26.8L731.80,24.0L732.30,21.9L732.80,20.7L733.30,20.4L733.80,21.1L734.30,22.7L734.80,25.1L735.30,28.3L735.80,32.1L736.30,36.4L736.80,40.9L737.30,45.5L737.80,50.0L738.30,54.0L738.80,57.5L739.30,60.2L739.80,62.0L740.30,62.8L740.80,62.5L741.30,61.2L741.80,58.8L742.30,55.6L742.80,51.6L743.30,47.0L743.80,42.2L744.30,37.3L744.80,32.6L745.30,28.4L745.80,24.9L746.30,22.3L746.80,20.8L747.30,20.4L747.80,21.3L748.30,23.5L748.80,26.7L749.05,28.7L749.30,30.9L749.55,33.3L749.80,35.8L750.05,38.4L750.30,41.1L750.55,43.8L750.80,46.4L751.05,49.0L751.30,51.5L751.55,53.8L751.80,55.9L752.05,57.8L752.30,59.4L752.55,60.7L752.80,61.7L753.05,62.4L753.30,62.8L753.55,62.7L753.80,62.4L754.05,61.6L754.30,60.6L754.55,59.2L754.80,57.4L755.05,55.5L755.30,53.2L755.55,50.8L755.80,48.2L756.05,45.4L756.30,42.6L756.55,39.8L756.80,37.0L757.05,34.3L757.30,31.7L757.55,29.3L757.80,27.1L758.05,25.1L758.30,23.5L758.55,22.1L758.80,21.2L759.05,20.6L759.30,20.4L759.55,20.6L759.80,21.2L760.05,22.3L760.30,23.7L760.55,25.5L760.80,27.7L761.05,30.1L761.30,32.8L761.55,35.6L761.80,38.6L762.05,41.7L762.30,44.7L762.55,47.8L762.80,50.6L763.05,53.3L763.30,55.8L763.55,57.9L763.80,59.7L764.05,61.1L764.30,62.1L764.55,62.7L764.80,62.8L765.05,62.4L765.30,61.6L765.55,60.3L765.80,58.6L766.05,56.5L766.30,54.1L766.55,51.3L766.80,48.4L767.05,45.3L767.30,42.1L767.55,38.9L767.80,35.7L768.05,32.7L768.30,29.9L768.55,27.3L768.80,25.1L769.05,23.3L769.30,21.8L769.55,20.9L769.80,20.4L770.05,20.5L770.30,21.0L770.55,22.1L770.80,23.6L771.05,25.5L771.30,27.9L771.55,30.6L771.80,33.5L772.05,36.7L772.30,39.9L772.55,43.3L772.80,46.6L773.05,49.8L773.30,52.7L773.55,55.4L773.80,57.8L774.05,59.8L774.30,61.3L774.55,62.3L774.80,62.8L775.05,62.7L775.30,62.1L775.55,61.0L775.80,59.3L776.05,57.2L776.30,54.7L776.55,51.8L776.80,48.7L777.05,45.3L777.30,41.9L777.55,38.4L777.80,35.1L778.05,31.8L778.30,28.9L778.55,26.3L778.80,24.1L779.05,22.3L779.30,21.1L779.55,20.5L779.80,20.4L780.05,21.0L780.30,22.0L780.55,23.7L780.80,25.8L781.05,28.3L781.30,31.3L781.55,34.5L781.80,37.9L782.05,41.4L782.30,45.0L782.55,48.5L782.80,51.7L783.05,54.7L783.30,57.3L783.55,59.5L783.80,61.2L784.05,62.3L784.30,62.8L784.55,62.7L784.80,61.9L785.05,60.6L785.30,58.7L785.55,56.3L785.80,53.5L786.05,50.3L786.30,46.8L786.55,43.2L786.80,39.5L787.05,35.9L787.30,32.4L787.55,29.3L787.80,26.4L788.05,24.1L788.30,22.3L788.55,21.0L788.80,20.5L789.05,20.5L789.30,21.2L789.55,22.5L789.80,24.3L790.05,26.7L790.30,29.5L790.55,32.7L790.80,36.1L791.05,39.7L791.30,43.4L791.55,47.1L791.80,50.5L792.05,53.7L792.30,56.6L792.55,59.0L792.80,60.8L793.05,62.1L793.30,62.7L793.55,62.7L793.80,62.0L794.05,60.7L794.30,58.8L794.55,56.3L794.80,53.4L795.05,50.1L795.30,46.5L795.55,42.7L795.80,38.9L796.05,35.2L796.30,31.7L796.55,28.5L796.80,25.7L797.05,23.5L797.30,21.8L797.55,20.7L797.80,20.4L798.05,20.8L798.30,22.0L798.55,24.1L798.80,26.8L799.05,30.1L799.30,33.8L799.55,37.9L799.80,42.2L800.05,46.4L800.30,50.4L800.55,54.1L800.80,57.3L801.05,59.8L801.30,61.6L801.55,62.6L801.80,62.7L802.05,62.0L802.30,60.3L802.55,57.9L802.80,54.8L803.05,51.2L803.30,47.1L803.55,42.8L803.80,38.4L804.05,34.1L804.30,30.2L804.55,26.8L804.80,23.9L805.05,21.9L805.30,20.7L805.55,20.4L805.80,21.1L806.05,22.7L806.30,25.3L806.55,28.6L806.80,32.5L807.05,36.8L807.30,41.4L807.55,46.0L807.80,50.4L808.05,54.4L808.30,57.8L808.55,60.4L808.80,62.1L809.05,62.8L809.30,62.5L809.55,61.1L809.80,58.8L810.05,55.7L810.30,51.8L810.55,47.4L810.80,42.7L811.05,38.0L811.30,33.4L811.55,29.3L811.80,25.7L812.05,23.0L812.30,21.2L812.55,20.4L812.80,20.7L813.05,21.9L813.30,23.9L813.55,26.7L813.80,30.1L814.05,34.1L814.30,38.4L814.55,42.8L814.80,47.2L815.05,51.3L815.30,55.1L815.55,58.2L815.80,60.6L816.05,62.1L816.30,62.8L816.55,62.5L816.80,61.2L817.05,59.1L817.30,56.1L817.55,52.5L817.80,48.4L818.05,44.0L818.30,39.5L818.55,35.0L818.80,30.8L819.05,27.2L819.30,24.2L819.55,22.0L819.80,20.7L820.05,20.4L820.30,21.2L820.55,23.0L820.80,25.9L821.05,29.5L821.30,33.9L821.55,38.6L821.80,43.5L822.05,48.3L822.30,52.8L822.55,56.6L822.80,59.7L823.05,61.7L823.30,62.7L823.55,62.6L823.80,61.2L824.05,58.8L824.30,55.5L824.55,51.3L824.80,46.6L825.05,41.7L825.30,36.7L825.55,32.0L825.80,27.8L826.05,24.4L826.30,21.9L826.55,20.6L826.80,20.5L827.05,21.6L827.30,23.9L827.55,27.3L827.80,31.6L828.05,36.4L828.30,41.6L828.55,46.8L828.80,51.7L829.05,55.9L829.30,59.3L829.55,61.6L829.80,62.7L830.05,62.5L830.17,61.9L830.29,61.1L830.41,59.9L830.53,58.5L830.65,56.9L830.77,55.0L830.89,52.9L831.01,50.7L831.13,48.3L831.25,45.8L831.37,43.3L831.49,40.7L831.61,38.2L831.73,35.7L831.85,33.3L831.97,31.0L832.09,28.8L832.21,26.9L832.33,25.1L832.45,23.6L832.57,22.4L832.69,21.4L832.94,20.4L833.19,20.7L833.44,22.2L833.69,24.7L833.94,28.1L834.19,32.3L834.44,37.0L834.69,42.0L834.94,46.9L835.19,51.6L835.44,55.7L835.69,59.0L835.94,61.4L836.19,62.6L836.44,62.7L836.69,61.5L836.94,59.3L837.19,56.0L837.44,51.8L837.69,47.1L837.94,42.1L838.19,37.0L838.44,32.2L838.69,28.0L838.94,24.5L839.19,22.0L839.44,20.6L839.69,20.5L839.94,21.6L840.19,23.9L840.44,27.3L840.69,31.5L840.94,36.3L841.19,41.4L841.44,46.6L841.69,51.4L841.94,55.7L842.19,59.1L842.44,61.5L842.69,62.7L842.94,62.6L843.19,61.2L843.44,58.6L843.69,55.0L843.94,50.5L844.19,45.5L844.44,40.3L844.69,35.1L844.81,32.7L844.93,30.5L845.05,28.4L845.17,26.5L845.29,24.8L845.41,23.4L845.53,22.2L845.65,21.3L845.77,20.7L845.89,20.4L846.01,20.4L846.13,20.8L846.25,21.4L846.37,22.3L846.49,23.5L846.61,25.0L846.73,26.7L846.85,28.6L846.97,30.8L847.09,33.0L847.21,35.5L847.33,38.0L847.45,40.5L847.57,43.1L847.69,45.7L847.81,48.2L847.93,50.6L848.05,52.8L848.17,54.9L848.29,56.9L848.41,58.5L848.53,60.0L848.65,61.1L848.77,62.0L848.89,62.5L849.01,62.8L849.13,62.7L849.25,62.3L849.37,61.6L849.49,60.6L849.61,59.3L849.73,57.7L849.85,55.9L849.97,53.9L850.09,51.7L850.21,49.3L850.33,46.8L850.45,44.2L850.57,41.6L850.69,39.0L850.81,36.4L850.93,33.9L851.05,31.5L851.17,29.3L851.29,27.3L851.41,25.4L851.53,23.9L851.65,22.6L851.77,21.5L851.89,20.8L852.01,20.5L852.13,20.4L852.25,20.7L852.37,21.3L852.49,22.2L852.61,23.5L852.73,25.0L852.85,26.7L852.97,28.7L853.09,31.0L853.21,33.3L853.33,35.8L853.45,38.4L853.57,41.1L853.69,43.8L853.81,46.4L853.93,49.0L854.05,51.4L854.17,53.7L854.29,55.8L854.41,57.6L854.53,59.3L854.65,60.6L854.77,61.6L854.89,62.4L855.01,62.7L855.13,62.8L855.25,62.5L855.37,61.8L855.49,60.9L855.61,59.6L855.73,58.1L855.85,56.2L855.97,54.2L856.09,51.9L856.21,49.4L856.33,46.9L856.45,44.2L856.57,41.5L856.69,38.8L856.81,36.2L856.93,33.6L857.05,31.1L857.17,28.9L857.29,26.8L857.41,25.0L857.53,23.4L857.65,22.2L857.77,21.3L857.89,20.7L858.01,20.4L858.13,20.5L858.25,21.0L858.37,21.7L858.49,22.9L858.61,24.3L858.73,26.0L858.85,28.0L858.97,30.2L859.09,32.6L859.21,35.2L859.33,37.8L859.45,40.6L859.57,43.3L859.69,46.0L859.81,48.7L859.93,51.2L860.05,53.6L860.17,55.8L860.29,57.7L860.41,59.3L860.53,60.7L860.65,61.7L860.77,62.4L860.89,62.8L861.01,62.7L861.13,62.4L861.25,61.6L861.37,60.5L861.49,59.1L861.61,57.4L861.73,55.4L861.85,53.2L861.97,50.8L862.09,48.2L862.21,45.5L862.33,42.8L862.45,40.0L862.57,37.2L862.69,34.5L862.81,32.0L862.93,29.6L863.05,27.4L863.17,25.4L863.29,23.8L863.41,22.4L863.53,21.4L863.65,20.7L863.77,20.4L863.89,20.5L864.01,20.9L864.13,21.7L864.25,22.9L864.37,24.4L864.49,26.2L864.61,28.3L864.73,30.6L864.85,33.1L864.97,35.7L865.09,38.5L865.21,41.3L865.33,44.1L865.45,46.9L865.57,49.6L865.69,52.1L865.81,54.5L865.93,56.6L866.05,58.5L866.17,60.1L866.29,61.3L866.41,62.2L866.53,62.7L866.65,62.8L866.77,62.5L866.89,61.9L867.01,60.9L867.13,59.5L867.25,57.9L867.37,55.9L867.49,53.6L867.61,51.2L867.73,48.5L867.85,45.8L867.97,42.9L868.09,40.1L868.21,37.2L868.33,34.4L868.45,31.8L868.57,29.4L868.69,27.1L868.81,25.2L868.93,23.5L869.05,22.2L869.17,21.2L869.29,20.6L869.41,20.4L869.53,20.6L869.65,21.2L869.77,22.1L869.89,23.5L870.01,25.1L870.13,27.1L870.25,29.3L870.37,31.8L870.49,34.5L870.61,37.3L870.73,40.2L870.85,43.1L870.97,46.0L871.09,48.8L871.21,51.4L871.33,53.9L871.45,56.2L871.57,58.1L871.69,59.8L871.81,61.1L871.93,62.1L872.05,62.6L872.17,62.8L872.29,62.6L872.41,61.9L872.53,60.9L872.65,59.5L872.77,57.7L872.89,55.7L873.01,53.3L873.13,50.8L873.25,48.0L873.37,45.2L873.49,42.2L873.61,39.3L873.73,36.4L873.85,33.6L873.97,30.9L874.09,28.5L874.21,26.3L874.33,24.4L874.45,22.8L874.57,21.6L874.69,20.8L874.81,20.4L874.93,20.5L875.05,20.9L875.17,21.7L875.29,23.0L875.41,24.6L875.53,26.5L875.65,28.7L875.77,31.2L875.89,33.9L876.01,36.8L876.13,39.7L876.25,42.7L876.37,45.7L876.49,48.5L876.61,51.3L876.73,53.9L876.85,56.2L876.97,58.2L877.09,59.9L877.21,61.2L877.33,62.2L877.45,62.7L877.57,62.8L877.69,62.5L877.81,61.7L877.93,60.6L878.05,59.0L878.17,57.1L878.29,54.9L878.41,52.5L878.53,49.8L878.65,46.9L878.77,43.9L878.89,40.9L879.01,37.9L879.13,35.0L879.25,32.2L879.37,29.5L879.49,27.2L879.61,25.1L879.73,23.4L879.85,22.0L879.97,21.1L880.09,20.5L880.21,20.4L880.33,20.8L880.45,21.5L880.57,22.7L880.69,24.3L880.81,26.2L880.93,28.5L881.05,31.0L881.17,33.8L881.29,36.7L881.41,39.7L881.53,42.8L881.65,45.8L881.77,48.8L881.89,51.6L882.01,54.2L882.13,56.5L882.25,58.5L882.37,60.2L882.49,61.5L882.61,62.3L882.73,62.8L882.85,62.7L882.97,62.3L883.09,61.3L883.21,60.0L883.33,58.3L883.45,56.2L883.57,53.8L883.69,51.2L883.81,48.3L883.93,45.3L884.05,42.2L884.17,39.1L884.29,36.1L884.41,33.2L884.53,30.4L884.65,27.9L884.77,25.7L884.89,23.8L885.01,22.3L885.13,21.2L885.25,20.6L885.37,20.4L885.49,20.7L885.61,21.4L885.73,22.6L885.85,24.2L885.97,26.1L886.09,28.4L886.21,31.0L886.33,33.9L886.45,36.8L886.57,40.0L886.69,43.1L886.81,46.2L886.93,49.2L887.05,52.1L887.17,54.7L887.29,57.0L887.41,59.0L887.53,60.6L887.65,61.8L887.77,62.5L887.89,62.8L888.01,62.6L888.13,61.9L888.25,60.8L888.37,59.3L888.49,57.4L888.61,55.1L888.73,52.5L888.85,49.6L888.97,46.6L889.09,43.5L889.21,40.3L889.33,37.2L889.45,34.1L889.57,31.2L889.69,28.6L889.81,26.2L889.93,24.2L890.05,22.6L890.17,21.4L890.29,20.7L890.41,20.4L890.53,20.6L890.65,21.3L890.77,22.5L890.89,24.1L891.01,26.1L891.13,28.4L891.25,31.1L891.37,34.0L891.49,37.1L891.61,40.3L891.73,43.5L891.85,46.6L891.97,49.7L892.09,52.6L892.21,55.2L892.33,57.5L892.45,59.4L892.57,61.0L892.69,62.1L892.81,62.7L892.93,62.8L893.05,62.4L893.17,61.6L893.29,60.2L893.41,58.5L893.53,56.3L893.65,53.8L893.77,51.0L893.89,48.0L894.01,44.9L894.13,41.6L894.25,38.4L894.37,35.2L894.49,32.2L894.61,29.4L894.73,26.9L894.85,24.7L894.97,22.9L895.09,21.6L895.21,20.8L895.33,20.4L895.45,20.6L895.57,21.2L895.69,22.3L895.81,23.9L895.93,25.9L896.05,28.3L896.17,31.0L896.29,34.0L896.41,37.2L896.53,40.4L896.65,43.7L896.77,46.9L896.89,50.0L897.01,53.0L897.13,55.6L897.25,57.9L897.37,59.8L897.49,61.3L897.61,62.3L897.73,62.7L897.85,62.7L897.97,62.2L898.09,61.2L898.21,59.6L898.33,57.7L898.45,55.3L898.57,52.6L898.69,49.7L898.81,46.5L898.93,43.3L899.05,39.9L899.17,36.6L899.29,33.5L899.41,30.5L899.53,27.8L899.65,25.5L899.77,23.5L899.89,22.0L900.01,21.0L900.13,20.5L900.25,20.5L900.37,21.0L900.49,22.1L900.61,23.6L900.73,25.6L900.85,28.0L900.97,30.7L901.09,33.7L901.21,36.9L901.33,40.2L901.45,43.6L901.57,46.9L901.69,50.1L901.81,53.0L901.93,55.7L902.05,58.0L902.17,59.9L902.29,61.4L902.41,62.4L902.53,62.8L902.65,62.7L902.77,62.0L902.89,60.9L903.01,59.2L903.13,57.1L903.25,54.6L903.37,51.8L903.49,48.7L903.61,45.4L903.73,42.0L903.85,38.6L903.97,35.3L904.09,32.2L904.21,29.2L904.33,26.7L904.45,24.4L904.57,22.7L904.69,21.4L904.81,20.6L904.93,20.4L905.05,20.7L905.17,21.6L905.29,23.0L905.41,24.9L905.53,27.2L905.65,29.9L905.77,32.9L905.89,36.1L906.01,39.5L906.13,42.9L906.25,46.3L906.37,49.6L906.49,52.6L906.61,55.4L906.73,57.8L906.85,59.8L906.97,61.3L907.09,62.3L907.21,62.8L907.33,62.7L907.45,62.0L907.57,60.8L907.69,59.1L907.81,56.9L907.93,54.3L908.05,51.4L908.17,48.2L908.29,44.8L908.41,41.4L908.53,37.9L908.65,34.6L908.77,31.4L908.89,28.5L909.01,26.0L909.13,23.8L909.25,22.2L909.37,21.1L909.49,20.5L909.61,20.5L909.73,21.0L909.85,22.2L909.97,23.8L910.09,25.9L910.21,28.5L910.33,31.4L910.45,34.6L910.57,38.0L910.69,41.4L910.81,44.9L910.93,48.3L911.05,51.6L911.17,54.5L911.29,57.1L911.41,59.3L911.53,61.0L911.65,62.1L911.77,62.7L911.89,62.7L912.01,62.2L912.13,61.0L912.25,59.4L912.37,57.2L912.49,54.6L912.61,51.7L912.73,48.4L912.85,45.0L912.97,41.5L913.09,38.0L913.21,34.5L913.33,31.3L913.45,28.4L913.57,25.8L913.69,23.7L913.81,22.0L913.93,20.9L914.05,20.4L914.17,20.5L914.29,21.2L914.41,22.4L914.53,24.2L914.65,26.5L914.77,29.2L914.89,32.3L915.01,35.6L915.13,39.1L915.25,42.6L915.37,46.2L915.49,49.6L915.61,52.8L915.73,55.6L915.85,58.1L915.97,60.1L916.09,61.6L916.21,62.5L916.33,62.8L916.45,62.5L916.57,61.6L916.69,60.1L916.81,58.1L916.93,55.7L917.05,52.8L917.17,49.6L917.29,46.1L917.41,42.6L917.53,39.0L917.65,35.5L917.77,32.1L917.89,29.0L918.01,26.3L918.13,24.0L918.25,22.3L918.37,21.1L918.49,20.5L918.61,20.5L918.73,21.1L918.85,22.3L918.97,24.1L919.09,26.4L919.21,29.2L919.33,32.3L919.45,35.6L919.57,39.2L919.69,42.8L919.81,46.4L919.93,49.9L920.05,53.1L920.17,56.0L920.29,58.4L920.41,60.4L920.53,61.8L920.65,62.6L920.77,62.8L920.89,62.3L921.01,61.3L921.13,59.6L921.25,57.4L921.37,54.8L921.49,51.7L921.61,48.4L921.73,44.8L921.85,41.2L921.97,37.5L922.09,34.0L922.21,30.7L922.33,27.7L922.45,25.2L922.57,23.1L922.69,21.6L922.81,20.7L922.93,20.4L923.05,20.8L923.17,21.8L923.29,23.4L923.41,25.5L923.53,28.2L923.65,31.2L923.77,34.6L923.89,38.2L924.01,41.8L924.13,45.5L924.25,49.1L924.37,52.4L924.49,55.4L924.61,58.0L924.73,60.1L924.85,61.6L924.97,62.5L925.09,62.8L925.21,62.4L925.33,61.4L925.45,59.7L925.57,57.5L925.69,54.8L925.81,51.7L925.93,48.3L926.05,44.7L926.17,41.0L926.29,37.2L926.41,33.7L926.53,30.3L926.65,27.4L926.77,24.8L926.89,22.8L927.01,21.4L927.13,20.6L927.25,20.4L927.37,20.9L927.49,22.1L927.61,23.9L927.73,26.2L927.85,29.0L927.97,32.3L928.09,35.8L928.21,39.5L928.33,43.2L928.45,47.0L928.57,50.5L928.69,53.8L928.81,56.7L928.93,59.1L929.05,60.9L929.17,62.2L929.29,62.8L929.41,62.7L929.53,61.9L929.65,60.5L929.77,58.5L929.89,55.9L930.01,52.9L930.13,49.6L930.25,45.9L930.37,42.2L930.49,38.4L930.61,34.7L930.73,31.2L930.85,28.1L930.97,25.4L931.09,23.2L931.21,21.6L931.33,20.7L931.45,20.4L931.57,20.8L931.69,21.9L931.81,23.7L931.93,26.0L932.05,28.8L932.17,32.1L932.29,35.6L932.41,39.4L932.53,43.2L932.65,47.0L932.77,50.6L932.89,53.9L933.01,56.8L933.13,59.2L933.25,61.1L933.37,62.3L933.49,62.8L933.61,62.6L933.73,61.7L933.85,60.2L933.97,58.0L934.09,55.3L934.21,52.2L934.33,48.7L934.45,44.9L934.57,41.1L934.69,37.2L934.81,33.6L934.93,30.1L935.05,27.1L935.17,24.5L935.29,22.5L935.41,21.1L935.53,20.5L935.65,20.5L935.77,21.2L935.89,22.7L936.01,24.7L936.13,27.3L936.25,30.5L936.37,33.9L936.49,37.7L936.61,41.6L936.73,45.4L936.85,49.2L936.97,52.7L937.09,55.8L937.21,58.5L937.33,60.5L937.45,62.0L937.57,62.7L937.69,62.7L937.81,62.0L937.93,60.6L938.05,58.6L938.17,56.0L938.29,52.8L938.41,49.3L938.53,45.6L938.65,41.7L938.77,37.7L938.89,34.0L939.01,30.4L939.13,27.3L939.25,24.7L939.37,22.6L939.49,21.2L939.61,20.5L939.73,20.5L939.85,21.3L939.97,22.7L940.09,24.8L940.21,27.5L940.33,30.7L940.45,34.3L940.57,38.1L940.69,42.1L940.81,46.0L940.93,49.8L941.05,53.3L941.17,56.4L941.29,59.0L941.41,60.9L941.53,62.2L941.65,62.8L941.77,62.6L941.89,61.7L942.01,60.1L942.13,57.8L942.25,54.9L942.37,51.6L942.49,47.9L942.61,44.0L942.73,40.1L942.85,36.1L942.97,32.4L943.09,29.0L943.21,26.0L943.33,23.6L943.45,21.8L943.57,20.7L943.69,20.4L943.81,20.8L943.93,22.0L944.05,23.9L944.17,26.4L944.29,29.5L944.41,33.0L944.53,36.8L944.65,40.7L944.77,44.8L944.89,48.7L945.01,52.3L945.13,55.6L945.25,58.3L945.37,60.5L945.49,62.0L945.61,62.7L945.73,62.7L945.85,61.9L945.97,60.4L946.09,58.2L946.21,55.3L946.33,52.0L946.45,48.3L946.57,44.4L946.69,40.3L946.81,36.3L946.93,32.5L947.05,29.0L947.17,26.0L947.29,23.6L947.41,21.8L947.53,20.7L947.65,20.4L947.77,20.9L947.89,22.1L948.01,24.1L948.13,26.7L948.25,29.9L948.37,33.5L948.49,37.4L948.61,41.5L948.73,45.5L948.85,49.5L948.97,53.1L949.09,56.3L949.21,59.0L949.33,61.0L949.45,62.3L949.57,62.8L949.69,62.5L949.81,61.5L949.93,59.7L950.05,57.2L950.17,54.1L950.29,50.6L950.41,46.7L950.53,42.7L950.65,38.6L950.77,34.6L950.89,30.8L951.01,27.5L951.13,24.7L951.25,22.5L951.37,21.1L951.49,20.4L951.61,20.6L951.73,21.5L951.85,23.2L951.97,25.6L952.09,28.6L952.21,32.1L952.33,36.0L952.45,40.1L952.57,44.2L952.69,48.3L952.81,52.1L952.93,55.5L953.05,58.3L953.17,60.5L953.29,62.0L953.41,62.7L953.53,62.6L953.65,61.7L953.77,60.0L953.89,57.6L954.01,54.6L954.13,51.1L954.25,47.2L954.37,43.1L954.49,38.9L954.61,34.8L954.73,31.0L954.85,27.6L954.97,24.7L955.09,22.6L955.21,21.1L955.33,20.4L955.45,20.6L955.57,21.6L955.69,23.4L955.81,25.9L955.93,29.0L956.05,32.6L956.17,36.5L956.29,40.7L956.41,44.9L956.53,49.0L956.65,52.7L956.77,56.1L956.89,58.9L957.01,61.0L957.13,62.3L957.25,62.8L957.37,62.5L957.49,61.3L957.61,59.4L957.73,56.7L957.85,53.5L957.97,49.8L958.09,45.7L958.21,41.5L958.33,37.3L958.45,33.2L958.57,29.5L958.69,26.3L958.81,23.7L958.93,21.8L959.05,20.7L959.17,20.4L959.29,21.0L959.41,22.4L959.53,24.6L959.65,27.5L959.77,30.9L959.89,34.8L960.01,39.0L960.13,43.2L960.25,47.4L960.37,51.4L960.49,55.0L960.61,58.0L960.73,60.4L960.85,62.0L960.97,62.7L961.09,62.6L961.21,61.7L961.33,59.9L961.45,57.4L961.57,54.3L961.69,50.6L961.81,46.5L961.93,42.3L962.05,38.0L962.17,33.8L962.29,30.0L962.41,26.7L962.53,23.9L962.65,21.9L962.77,20.7L962.89,20.4L963.01,20.9L963.13,22.3L963.25,24.5L963.37,27.4L963.49,30.9L963.61,34.9L963.73,39.1L963.85,43.4L963.97,47.7L964.09,51.7L964.21,55.2L964.33,58.3L964.45,60.6L964.57,62.1L964.69,62.8L964.81,62.6L964.93,61.5L965.05,59.5L965.17,56.8L965.29,53.5L965.41,49.7L965.53,45.5L965.65,41.2L965.77,36.9L965.89,32.7L966.01,29.0L966.13,25.8L966.25,23.2L966.37,21.4L966.49,20.5L966.61,20.5L966.73,21.4L966.85,23.1L966.97,25.6L967.09,28.8L967.21,32.6L967.33,36.7L967.45,41.1L967.57,45.4L967.69,49.6L967.81,53.5L967.93,56.9L968.05,59.6L968.17,61.5L968.29,62.6L968.41,62.8L968.53,62.0L968.65,60.4L968.77,58.0L968.89,54.9L969.01,51.2L969.13,47.0L969.25,42.7L969.37,38.3L969.49,34.0L969.61,30.1L969.73,26.6L969.85,23.8L969.97,21.8L970.09,20.7L970.21,20.4L970.33,21.1L970.45,22.7L970.57,25.1L970.69,28.2L970.81,31.9L970.93,36.1L971.05,40.4L971.17,44.9L971.29,49.2L971.41,53.1L971.53,56.6L971.65,59.4L971.77,61.4L971.89,62.5L972.01,62.8L972.13,62.1L972.25,60.4L972.37,58.0L972.49,54.8L972.61,51.0L972.73,46.8L972.85,42.4L972.97,38.0L973.09,33.7L973.21,29.7L973.33,26.3L973.45,23.6L973.57,21.6L973.69,20.6L973.81,20.5L973.93,21.3L974.05,23.1L974.17,25.7L974.29,29.0L974.41,32.8L974.53,37.1L974.65,41.6L974.77,46.0L974.89,50.3L975.01,54.2L975.13,57.5L975.25,60.1L975.37,61.9L975.49,62.7L975.61,62.6L975.73,61.6L975.85,59.6L975.97,56.8L976.09,53.3L976.21,49.3L976.33,44.9L976.45,40.4L976.57,36.0L976.69,31.7L976.81,28.0L976.93,24.8L977.05,22.5L977.17,21.0L977.29,20.4L977.41,20.8L977.53,22.2L977.65,24.5L977.77,27.5L977.89,31.2L978.01,35.4L978.13,39.9L978.25,44.4L978.37,48.9L978.49,52.9L978.61,56.5L978.73,59.4L978.85,61.4L978.97,62.6L979.09,62.7L979.21,61.9L979.33,60.2L979.45,57.5L979.57,54.1L979.69,50.2L979.81,45.8L979.93,41.3L980.05,36.7L980.17,32.4L980.29,28.5L980.41,25.2L980.53,22.7L980.65,21.1L980.77,20.4L980.89,20.7L981.01,22.1L981.13,24.3L981.25,27.4L981.37,31.1L981.49,35.3L981.61,39.8L981.73,44.4L981.85,48.9L981.97,53.1L982.09,56.6L982.21,59.5L982.33,61.6L982.45,62.6L982.57,62.7L982.69,61.8L982.81,59.9L982.93,57.1L983.05,53.6L983.17,49.5L983.29,45.1L983.41,40.4L983.53,35.9L983.65,31.6L983.77,27.7L983.89,24.6L984.01,22.2L984.13,20.8L984.25,20.4L984.37,21.0L984.49,22.6L984.61,25.1L984.73,28.5L984.85,32.4L984.97,36.8L985.09,41.4L985.21,46.1L985.33,50.5L985.45,54.5L985.57,57.9L985.69,60.5L985.81,62.1L985.93,62.8L986.05,62.4L986.17,61.0L986.29,58.7L986.41,55.5L986.53,51.7L986.65,47.3L986.77,42.7L986.89,38.0L987.01,33.5L987.13,29.4L987.25,25.8L987.37,23.1L987.49,21.3L987.61,20.4L987.73,20.7L987.85,21.9L987.97,24.1L988.09,27.2L988.21,31.0L988.33,35.3L988.45,40.0L988.57,44.7L988.69,49.3L988.81,53.5L988.93,57.1L989.05,59.9L989.17,61.8L989.29,62.7L989.41,62.6L989.53,61.4L989.65,59.2L989.77,56.2L989.89,52.4L990.01,48.0L990.13,43.4L990.25,38.6L990.37,34.0L990.49,29.8L990.61,26.2L990.73,23.3L990.85,21.4L990.97,20.5L991.09,20.6L991.21,21.8L991.33,24.0L991.45,27.2L991.57,31.0L991.69,35.4L991.81,40.1L991.93,44.8L992.05,49.4L992.17,53.7L992.29,57.3L992.41,60.1L992.53,61.9L992.65,62.8L992.77,62.5L992.89,61.2L993.01,58.9L993.13,55.7L993.25,51.7L993.37,47.3L993.49,42.5L993.61,37.7L993.73,33.1L993.85,29.0L993.97,25.5L994.09,22.8L994.21,21.1L994.33,20.4L994.45,20.8L994.57,22.4L994.69,24.9L994.81,28.3L994.93,32.3L995.05,36.9L995.17,41.7L995.29,46.5L995.41,51.0L995.53,55.1L995.65,58.5L995.77,60.9L995.89,62.4L996.01,62.8L996.13,62.1L996.25,60.3L996.37,57.5L996.49,53.9L996.61,49.6L996.73,45.0L996.85,40.1L996.97,35.3L997.09,30.9L997.21,27.0L997.33,23.9L997.45,21.7L997.57,20.6L997.69,20.5L997.81,21.6L997.93,23.8L998.05,26.9L998.17,30.7L998.29,35.2L998.41,40.0L998.53,44.9L998.65,49.6L998.77,53.9L998.89,57.5L999.01,60.3L999.13,62.1L999.25,62.8L999.37,62.4L999.49,60.8L999.61,58.3L999.73,54.8L999.85,50.6L999.97,46.0L1000.09,41.1L1000.21,36.2L1000.33,31.6L1000.45,27.6L1000.57,24.3L1000.69,21.9L1000.81,20.6L1000.93,20.5L1001.05,21.4L1001.17,23.5L1001.29,26.6L1001.41,30.4L1001.53,34.9L1001.65,39.7L1001.77,44.7L1001.89,49.4L1002.01,53.8L1002.13,57.5L1002.25,60.3L1002.37,62.1L1002.49,62.8L1002.61,62.3L1002.73,60.7L1002.85,58.1L1002.97,54.5L1003.09,50.3L1003.21,45.5L1003.33,40.6L1003.45,35.7L1003.57,31.1L1003.69,27.1L1003.81,23.9L1003.93,21.7L1004.05,20.5L1004.17,20.6L1004.29,21.8L1004.41,24.0L1004.53,27.3L1004.65,31.4L1004.77,36.0L1004.89,40.9L1005.01,45.9L1005.13,50.6L1005.25,54.9L1005.37,58.4L1005.49,60.9L1005.61,62.4L1005.73,62.8L1005.85,61.9L1005.97,59.9L1006.09,56.9L1006.21,53.1L1006.33,48.5L1006.45,43.6L1006.57,38.6L1006.69,33.8L1006.81,29.4L1006.93,25.6L1007.05,22.8L1007.17,21.0L1007.29,20.4L1007.41,21.0L1007.53,22.7L1007.65,25.5L1007.77,29.2L1007.89,33.7L1008.01,38.5L1008.13,43.6L1008.25,48.5L1008.37,53.1L1008.49,57.0L1008.61,60.0L1008.73,62.0L1008.85,62.8L1008.97,62.4L1009.09,60.8L1009.21,58.2L1009.33,54.5L1009.45,50.2L1009.57,45.3L1009.69,40.3L1009.81,35.3L1009.93,30.7L1010.05,26.7L1010.17,23.5L1010.29,21.4L1010.41,20.4L1010.53,20.7L1010.65,22.2L1010.77,24.8L1010.89,28.3L1011.01,32.7L1011.13,37.5L1011.25,42.6L1011.37,47.6L1011.49,52.3L1011.61,56.4L1011.73,59.6L1011.85,61.7L1011.97,62.7L1012.09,62.5L1012.21,61.1L1012.33,58.5L1012.45,54.9L1012.57,50.6L1012.69,45.7L1012.81,40.6L1012.93,35.5L1013.05,30.8L1013.17,26.8L1013.29,23.6L1013.41,21.4L1013.53,20.4L1013.65,20.7L1013.77,22.2L1013.89,24.9L1014.01,28.5L1014.13,32.9L1014.25,37.8L1014.37,43.0L1014.49,48.0L1014.61,52.7L1014.73,56.7L1014.85,59.9L1014.97,61.9L1015.09,62.8L1015.21,62.4L1015.33,60.7L1015.45,58.0L1015.57,54.2L1015.69,49.7L1015.81,44.7L1015.93,39.5L1016.05,34.5L1016.17,29.9L1016.29,25.9L1016.41,22.9L1016.53,21.0L1016.65,20.4L1016.77,21.0L1016.89,22.9L1017.01,25.9L1017.13,29.8L1017.25,34.4L1017.37,39.5L1017.49,44.7L1017.61,49.7L1017.73,54.2L1017.85,58.0L1017.97,60.8L1018.09,62.4L1018.21,62.8L1018.33,61.8L1018.45,59.7L1018.57,56.5L1018.69,52.3L1018.81,47.5L1018.93,42.3L1019.05,37.1L1019.17,32.2L1019.29,27.8L1019.41,24.3L1019.53,21.8L1019.65,20.6L1019.77,20.6L1019.89,21.9L1020.01,24.4L1020.13,27.9L1020.25,32.3L1020.37,37.3L1020.49,42.6L1020.61,47.7L1020.73,52.5L1020.85,56.7L1020.97,59.9L1021.09,62.0L1021.21,62.8L1021.33,62.3L1021.45,60.6L1021.57,57.6L1021.69,53.7L1021.81,49.0L1021.93,43.9L1022.05,38.6L1022.17,33.5L1022.29,28.9L1022.41,25.1L1022.53,22.3L1022.65,20.7L1022.77,20.5L1022.89,21.5L1023.01,23.8L1023.13,27.2L1023.25,31.5L1023.37,36.4L1023.49,41.7L1023.61,46.9L1023.73,51.9L1023.85,56.1L1023.97,59.5L1024.09,61.8L1024.21,62.8L1024.33,62.4L1024.45,60.8L1024.57,57.9L1024.69,54.0L1024.81,49.3L1024.93,44.2L1025.05,38.8L1025.17,33.7L1025.29,29.0L1025.41,25.2L1025.53,22.3L1025.65,20.7L1025.77,20.5L1025.89,21.5L1026.01,23.9L1026.13,27.3L1026.25,31.7L1026.37,36.7L1026.49,42.1L1026.61,47.3L1026.73,52.3L1026.85,56.5L1026.97,59.8L1027.09,62.0L1027.21,62.8L1027.33,62.3L1027.45,60.4L1027.57,57.3L1027.69,53.3L1027.81,48.4L1027.93,43.2L1028.05,37.8L1028.17,32.7L1028.29,28.1L1028.41,24.4L1028.53,21.8L1028.65,20.5L1028.77,20.6L1028.89,22.0L1029.01,24.7L1029.13,28.5L1029.25,33.1L1029.37,38.3L1029.49,43.7L1029.61,49.0L1029.73,53.8L1029.85,57.8L1029.97,60.7L1030.09,62.4L1030.21,62.8L1030.33,61.7L1030.45,59.4L1030.57,55.8L1030.69,51.4L1030.81,46.3L1030.93,40.9L1031.05,35.5L1031.17,30.6L1031.29,26.3L1031.41,23.1L1031.53,21.1L1031.65,20.4L1031.77,21.1L1031.89,23.2L1032.01,26.5L1032.13,30.8L1032.25,35.8L1032.37,41.2L1032.49,46.6L1032.61,51.7L1032.73,56.1L1032.85,59.6L1032.97,61.9L1033.09,62.8L1033.21,62.3L1033.33,60.4L1033.45,57.3L1033.57,53.2L1033.69,48.2L1033.81,42.8L1033.93,37.4L1034.05,32.2L1034.17,27.6L1034.29,24.0L1034.41,21.6L1034.53,20.5L1034.65,20.8L1034.77,22.5L1034.89,25.5L1035.01,29.6L1035.13,34.5L1035.25,39.8L1035.37,45.3L1035.49,50.6L1035.61,55.2L1035.73,59.0L1035.85,61.5L1035.97,62.7L1036.09,62.5L1036.21,60.9L1036.33,57.9L1036.45,53.9L1036.57,49.0L1036.69,43.6L1036.81,38.1L1036.93,32.8L1037.05,28.1L1037.17,24.3L1037.29,21.7L1037.41,20.5L1037.53,20.7L1037.65,22.3L1037.77,25.3L1037.89,29.4L1038.01,34.3L1038.13,39.7L1038.25,45.2L1038.37,50.5L1038.49,55.2" fill="none" stroke="url(#gch)" stroke-width="1.35" stroke-linejoin="round"/>
<path d="M593.3,78.5L591.9,116M667.7,78.5L666.3,116M742.1,78.5L740.7,116M816.5,78.5L815.1,116M890.9,78.5L889.5,116M965.3,78.5L963.9,116M1039.7,78.5L1038.3,116" stroke="#2b2b2b" stroke-width="1.7" fill="none"/>
<path d="M605,92.1L604.4,102.9M617.4,92.1L616.8,102.9M629.8,92.1L629.2,102.9M642.2,92.1L641.6,102.9M654.6,92.1L654,102.9M679.4,92.1L678.8,102.9M691.8,92.1L691.2,102.9M704.2,92.1L703.6,102.9M716.6,92.1L716,102.9M729,92.1L728.4,102.9M753.8,92.1L753.2,102.9M766.2,92.1L765.6,102.9M778.6,92.1L778,102.9M791,92.1L790.4,102.9M803.4,92.1L802.8,102.9M828.2,92.1L827.6,102.9M840.6,92.1L840,102.9M853,92.1L852.4,102.9M865.4,92.1L864.8,102.9M877.8,92.1L877.2,102.9M902.6,92.1L902,102.9M915,92.1L914.4,102.9M927.4,92.1L926.8,102.9M939.8,92.1L939.2,102.9M952.2,92.1L951.6,102.9M977,92.1L976.4,102.9M989.4,92.1L988.8,102.9M1001.8,92.1L1001.2,102.9M1014.2,92.1L1013.6,102.9M1026.6,92.1L1026,102.9" stroke="#2b2b2b" stroke-width="1.4" fill="none"/>
<text x="629.8" y="86.8" font-size="12" fill="#2b2b2b" text-anchor="middle">100 MHz</text>
<text x="629.8" y="116.6" font-size="12" fill="#2b2b2b" text-anchor="middle">3 m</text>
<text x="704.2" y="86.8" font-size="12" fill="#2b2b2b" text-anchor="middle">500 MHz</text>
<text x="704.2" y="116.6" font-size="12" fill="#2b2b2b" text-anchor="middle">60 cm</text>
<text x="778.6" y="86.8" font-size="12" fill="#2b2b2b" text-anchor="middle">1 GHz</text>
<text x="778.6" y="116.6" font-size="12" fill="#2b2b2b" text-anchor="middle">30 cm</text>
<text x="853" y="86.8" font-size="12" fill="#2b2b2b" text-anchor="middle">10 GHz</text>
<text x="853" y="116.6" font-size="12" fill="#2b2b2b" text-anchor="middle">3 cm</text>
<text x="927.4" y="86.8" font-size="12" fill="#2b2b2b" text-anchor="middle">30 GHz</text>
<text x="927.4" y="116.6" font-size="12" fill="#2b2b2b" text-anchor="middle">10 mm</text>
<text x="1001.8" y="86.8" font-size="12" fill="#2b2b2b" text-anchor="middle">110 GHz</text>
<text x="1001.8" y="116.6" font-size="12" fill="#2b2b2b" text-anchor="middle">&lt;3 mm</text>
<g filter="url(#sh)"><path d="M591,281L591,291L594.7,297L594,364L588.3,374L588.2,381L597,381L597.4,374L601,364L602.2,297L600.5,291L600.5,281Z" fill="url(#gst)" stroke="#efbd3c" stroke-width="0.6"/><path d="M607.5,281L607.3,297L605.5,364L604.4,374L604.4,381L612.8,381L612.8,374L614.6,364L616.6,297L615.8,281Z" fill="url(#gst)" stroke="#efbd3c" stroke-width="0.6"/><path d="M623.8,281L623.3,297L621.6,364L621.3,374L621.3,381L629.7,381L629.7,374L631,364L632.6,297L632,281Z" fill="url(#gst)" stroke="#efbd3c" stroke-width="0.6"/><path d="M640,281L638.3,297L636.8,364L637.7,374L637.7,381L646.1,381L646.1,374L645.2,364L646.8,297L648.2,281Z" fill="url(#gst)" stroke="#efbd3c" stroke-width="0.6"/><path d="M656.5,281L656.5,291L652.9,297L651.6,364L654.1,374L654.1,381L662.5,381L662.5,374L659.6,364L660.8,297L664.8,291L664.8,281Z" fill="url(#gst)" stroke="#efbd3c" stroke-width="0.6"/><rect x="590.2" y="271.5" width="9.9" height="10.9" fill="#f4c84a"/><rect x="606.7" y="271.5" width="9.9" height="10.9" fill="#f4c84a"/><rect x="623" y="271.5" width="9.8" height="10.9" fill="#f4c84a"/><rect x="639.2" y="271.5" width="9.8" height="10.9" fill="#f4c84a"/><rect x="655.7" y="271.5" width="9.8" height="10.9" fill="#f4c84a"/><rect x="587.4" y="380.3" width="10" height="11.4" fill="#f4c84a"/><rect x="603.6" y="380.3" width="10" height="11.4" fill="#f4c84a"/><rect x="620.5" y="380.3" width="10" height="11.4" fill="#f4c84a"/><rect x="636.9" y="380.3" width="10" height="11.4" fill="#f4c84a"/><rect x="653.3" y="380.3" width="10" height="11.4" fill="#f4c84a"/></g><rect x="591" y="272.1" width="8.3" height="8.9" fill="#585858"/><rect x="591" y="279.6" width="8.3" height="1.4" fill="#a89a78"/><rect x="607.5" y="272.1" width="8.3" height="8.9" fill="#585858"/><rect x="607.5" y="279.6" width="8.3" height="1.4" fill="#a89a78"/><rect x="623.8" y="272.1" width="8.2" height="8.9" fill="#585858"/><rect x="623.8" y="279.6" width="8.2" height="1.4" fill="#a89a78"/><rect x="640" y="272.1" width="8.2" height="8.9" fill="#585858"/><rect x="640" y="279.6" width="8.2" height="1.4" fill="#a89a78"/><rect x="656.5" y="272.1" width="8.2" height="8.9" fill="#585858"/><rect x="656.5" y="279.6" width="8.2" height="1.4" fill="#a89a78"/><rect x="588.2" y="380.9" width="8.4" height="9.4" fill="#585858"/><rect x="588.2" y="388.9" width="8.4" height="1.4" fill="#a89a78"/><rect x="604.4" y="380.9" width="8.4" height="9.4" fill="#585858"/><rect x="604.4" y="388.9" width="8.4" height="1.4" fill="#a89a78"/><rect x="621.3" y="380.9" width="8.4" height="9.4" fill="#585858"/><rect x="621.3" y="388.9" width="8.4" height="1.4" fill="#a89a78"/><rect x="637.7" y="380.9" width="8.4" height="9.4" fill="#585858"/><rect x="637.7" y="388.9" width="8.4" height="1.4" fill="#a89a78"/><rect x="654.1" y="380.9" width="8.4" height="9.4" fill="#585858"/><rect x="654.1" y="388.9" width="8.4" height="1.4" fill="#a89a78"/>
<g filter="url(#sh)"><path d="M714.1,246L721.2,268L721.2,375L712.7,397L725.4,397L732.2,375L732.2,268L726.2,246Z" fill="url(#gst)" stroke="#efbd3c" stroke-width="0.6"/><path d="M740.9,246L739.6,268L739.3,378L739.4,397L752.2,397L751,378L751.2,268L753.1,246Z" fill="url(#gst)" stroke="#efbd3c" stroke-width="0.6"/><path d="M767.3,246L760.6,268L760.6,375L766.2,397L778.6,397L770,375L770.4,268L779.5,246Z" fill="url(#gst)" stroke="#efbd3c" stroke-width="0.6"/><rect x="713.3" y="230.5" width="13.7" height="17.1" fill="#f4c84a"/><rect x="740.1" y="230.5" width="13.8" height="17.1" fill="#f4c84a"/><rect x="766.5" y="230.5" width="13.8" height="17.1" fill="#f4c84a"/><rect x="711.8" y="396.7" width="14.1" height="17.3" fill="#f4c84a"/><rect x="738.6" y="396.7" width="14.4" height="17.3" fill="#f4c84a"/><rect x="765.4" y="396.7" width="14" height="17.3" fill="#f4c84a"/></g><rect x="714.1" y="231.1" width="12.1" height="15.1" fill="#585858"/><rect x="714.1" y="244.8" width="12.1" height="1.4" fill="#a89a78"/><rect x="740.9" y="231.1" width="12.2" height="15.1" fill="#585858"/><rect x="740.9" y="244.8" width="12.2" height="1.4" fill="#a89a78"/><rect x="767.3" y="231.1" width="12.2" height="15.1" fill="#585858"/><rect x="767.3" y="244.8" width="12.2" height="1.4" fill="#a89a78"/><rect x="712.6" y="397.3" width="12.5" height="15.3" fill="#585858"/><rect x="712.6" y="411.2" width="12.5" height="1.4" fill="#a89a78"/><rect x="739.4" y="397.3" width="12.8" height="15.3" fill="#585858"/><rect x="739.4" y="411.2" width="12.8" height="1.4" fill="#a89a78"/><rect x="766.2" y="397.3" width="12.4" height="15.3" fill="#585858"/><rect x="766.2" y="411.2" width="12.4" height="1.4" fill="#a89a78"/>
<g filter="url(#sh)"><path d="M846.2,246L854.4,268L854.4,375L847.2,397L859.8,397L865,375L865,268L858.8,246Z" fill="url(#gst)" stroke="#efbd3c" stroke-width="0.6"/><path d="M872.5,246L872.5,268L872.8,378L873.5,397L886.2,397L885,378L884.8,268L885.2,246Z" fill="url(#gst)" stroke="#efbd3c" stroke-width="0.6"/><path d="M898.9,246L892.2,268L892.4,375L900.7,397L913.1,397L903,375L902.8,268L911.5,246Z" fill="url(#gst)" stroke="#efbd3c" stroke-width="0.6"/><rect x="845.4" y="229.9" width="14.2" height="17.7" fill="#f4c84a"/><rect x="871.7" y="229.9" width="14.3" height="17.7" fill="#f4c84a"/><rect x="898.1" y="229.9" width="14.2" height="17.7" fill="#f4c84a"/><rect x="846.4" y="396.7" width="14.2" height="17.1" fill="#f4c84a"/><rect x="872.7" y="396.7" width="14.3" height="17.1" fill="#f4c84a"/><rect x="899.9" y="396.7" width="14" height="17.1" fill="#f4c84a"/></g><rect x="846.2" y="230.5" width="12.6" height="15.7" fill="#585858"/><rect x="846.2" y="244.8" width="12.6" height="1.4" fill="#a89a78"/><rect x="872.5" y="230.5" width="12.7" height="15.7" fill="#585858"/><rect x="872.5" y="244.8" width="12.7" height="1.4" fill="#a89a78"/><rect x="898.9" y="230.5" width="12.6" height="15.7" fill="#585858"/><rect x="898.9" y="244.8" width="12.6" height="1.4" fill="#a89a78"/><rect x="847.2" y="397.3" width="12.6" height="15.1" fill="#585858"/><rect x="847.2" y="411" width="12.6" height="1.4" fill="#a89a78"/><rect x="873.5" y="397.3" width="12.7" height="15.1" fill="#585858"/><rect x="873.5" y="411" width="12.7" height="1.4" fill="#a89a78"/><rect x="900.7" y="397.3" width="12.4" height="15.1" fill="#585858"/><rect x="900.7" y="411" width="12.4" height="1.4" fill="#a89a78"/>
<g filter="url(#sh)"><path d="M951.5,245L951.8,258L960.5,269L960.8,376L954.7,398L967.3,398L972,376L971.8,269L965,258L965,245Z" fill="url(#gst)" stroke="#efbd3c" stroke-width="0.6"/><path d="M978.6,245L978.4,269L978.6,378L981.5,398L994.6,398L991.4,378L991.2,269L991.5,245Z" fill="url(#gst)" stroke="#efbd3c" stroke-width="0.6"/><path d="M1005,245L1005,258L1000,269L1000.4,376L1008.2,398L1021,398L1011.8,376L1011.4,269L1017.5,258L1017.7,245Z" fill="url(#gst)" stroke="#efbd3c" stroke-width="0.6"/><rect x="950.8" y="230" width="15.1" height="16.4" fill="#f4c84a"/><rect x="977.2" y="230" width="15.2" height="16.4" fill="#f4c84a"/><rect x="1003.7" y="230" width="15.1" height="16.4" fill="#f4c84a"/><rect x="953.9" y="397.7" width="14.2" height="16.3" fill="#f4c84a"/><rect x="980.7" y="397.7" width="14.7" height="16.3" fill="#f4c84a"/><rect x="1007.4" y="397.7" width="14.4" height="16.3" fill="#f4c84a"/></g><rect x="951.6" y="230.6" width="13.5" height="14.4" fill="#585858"/><rect x="951.6" y="243.6" width="13.5" height="1.4" fill="#a89a78"/><rect x="978" y="230.6" width="13.6" height="14.4" fill="#585858"/><rect x="978" y="243.6" width="13.6" height="1.4" fill="#a89a78"/><rect x="1004.5" y="230.6" width="13.5" height="14.4" fill="#585858"/><rect x="1004.5" y="243.6" width="13.5" height="1.4" fill="#a89a78"/><rect x="954.7" y="398.3" width="12.6" height="14.3" fill="#585858"/><rect x="954.7" y="411.2" width="12.6" height="1.4" fill="#a89a78"/><rect x="981.5" y="398.3" width="13.1" height="14.3" fill="#585858"/><rect x="981.5" y="411.2" width="13.1" height="1.4" fill="#a89a78"/><rect x="1008.2" y="398.3" width="12.8" height="14.3" fill="#585858"/><rect x="1008.2" y="411.2" width="12.8" height="1.4" fill="#a89a78"/>
<g filter="url(#sh)" fill="none" stroke="#0f30a6" stroke-width="2.1" stroke-linejoin="round"><path d="M653.9,184V207C653.9,222 629.3,218 629.3,236V243.2"/><path d="M657.7,184V232.6A11.75,11.75 0 0 0 681.2,232.6V163Q681.2,152 691.8,152H794.6"/><path d="M830.5,152H1026Q1041.3,152 1041.5,168L1046.5,420Q1046.8,434.6 1061,434.6H1074.2"/><path d="M807,478V458Q807,446.1 795,446.1H748Q736.2,446.1 736.2,434V226Q736.2,218.5 743.7,218.5H791.8Q799.3,218.5 799.3,226V276"/><path d="M625,423.7V451Q625,462.6 637,462.6H781.5Q793.4,462.6 793.4,474V478"/><path d="M826,276V226Q826,218.5 833.5,218.5H882Q889.5,218.5 889.5,226V434Q889.5,446.1 877.5,446.1H831Q819.1,446.1 819.1,458V478"/><path d="M832.7,478V474.5Q832.7,462.5 844.7,462.5H923Q935,462.5 935,450.5L933.5,207Q933.5,199.7 941,199.7H977.3Q984.8,199.7 984.8,207V220"/><path d="M984.8,220L975.8,227.2V233L977.7,419.6L989.4,428M984.8,220"/><path d="M996.1,227.2V233L999.9,419.6L989.4,428V485Q989.8,497 1002,497H1074.7"/><path d="M629.3,243.2L613.2,256.4V261L606.1,272.4L602.9,396L610.5,409.5L625,423.7L641,409.5L648.5,396L650,272.4"/><path d="M613.2,261L619.8,272.4L618.4,396L610.5,409.5M642.4,255.4V261L636.8,272.4L633.4,396L641,409.5"/><path d="M656.6,150V176"/><path d="M813,511V525.5"/></g>
<path d="M629.3,243.2L642.4,255.4M613.2,261L619.8,272.4M642.4,261L650,272.4M984.8,220L996.1,227.2" stroke="#d0620f" stroke-width="2.3" fill="none"/>
<path d="M599.3,277.6H607.5M615.8,277.6H623.8M632,277.6H640M648.2,277.6H656.5" stroke="#d0620f" stroke-width="3.7"/>
<path d="M726.2,238.6H740.9M753.1,238.6H767.3" stroke="#d0620f" stroke-width="4"/>
<path d="M858.8,238.6H872.5M885.2,238.6H898.9" stroke="#d0620f" stroke-width="4"/>
<path d="M967.3,406.4H981.5M994.6,406.4H1008.2" stroke="#d0620f" stroke-width="4"/>
<rect x="652.4" y="175.6" width="7.1" height="8.5" fill="#0f30a6"/>
<rect x="787.2" y="478.1" width="52.2" height="33.8" fill="#0b2b9f" filter="url(#sh)"/>
<rect x="648.6" y="131.8" width="16.2" height="24.4" fill="#fbcd3a" stroke="#0f30a6" stroke-width="1.6" filter="url(#sh)"/>
<line x1="656.6" y1="131.8" x2="656.6" y2="156.2" stroke="#0f30a6" stroke-width="1.6"/>
<rect x="791.2" y="261.5" width="16.8" height="26.5" fill="#fbcd3a" stroke="#0f30a6" stroke-width="1.6" filter="url(#sh)"/>
<line x1="799.5" y1="261.5" x2="799.5" y2="288" stroke="#0f30a6" stroke-width="1.6"/>
<rect x="818.2" y="261.5" width="16.6" height="26.5" fill="#fbcd3a" stroke="#0f30a6" stroke-width="1.6" filter="url(#sh)"/>
<line x1="826.2" y1="261.5" x2="826.2" y2="288" stroke="#0f30a6" stroke-width="1.6"/>
<g filter="url(#sh)"><ellipse cx="768.6" cy="185" rx="24.1" ry="26.8" fill="none" stroke="#0f30a6" stroke-width="3.4"/><path d="M781.01,162.03A24.1,26.8 0 0 1 785.64,203.95" fill="none" stroke="#d0620f" stroke-width="2.8"/><path d="M751.56,203.95A24.1,26.8 0 0 1 756.19,162.03" fill="none" stroke="#d0620f" stroke-width="2.8"/></g>
<g filter="url(#sh)"><ellipse cx="857.3" cy="185" rx="24.6" ry="27.2" fill="none" stroke="#0f30a6" stroke-width="3.4"/><path d="M869.97,161.69A24.6,27.2 0 0 1 874.69,204.23" fill="none" stroke="#d0620f" stroke-width="2.8"/><path d="M839.91,204.23A24.6,27.2 0 0 1 844.63,161.69" fill="none" stroke="#d0620f" stroke-width="2.8"/></g>
<g filter="url(#sh)"><ellipse cx="973.4" cy="448.2" rx="9.6" ry="10.5" fill="none" stroke="#0f30a6" stroke-width="3.4"/><path d="M980.53,441.17A9.6,10.5 0 0 1 980.53,455.23" fill="none" stroke="#d0620f" stroke-width="2.8"/><path d="M966.27,455.23A9.6,10.5 0 0 1 966.27,441.17" fill="none" stroke="#d0620f" stroke-width="2.8"/></g>
<g filter="url(#sh)"><ellipse cx="973.4" cy="476.9" rx="9.6" ry="10.5" fill="none" stroke="#0f30a6" stroke-width="3.4"/><path d="M980.53,469.87A9.6,10.5 0 0 1 980.53,483.93" fill="none" stroke="#d0620f" stroke-width="2.8"/><path d="M966.27,483.93A9.6,10.5 0 0 1 966.27,469.87" fill="none" stroke="#d0620f" stroke-width="2.8"/></g>
<path d="M799.6,288V392Q799.6,402.8 789,402.8H744M826,288V392Q826,402.8 836.6,402.8H881" fill="none" stroke="#cf2c3e" stroke-width="1.8" stroke-dasharray="5 3.6"/>
<path d="M812.8,340V352" stroke="#cf2c3e" stroke-width="1.8"/><path d="M812.8,361L809.2,351.5H816.4Z" fill="#cf2c3e"/>
<path d="M587.9,166.2V137" stroke="#111" stroke-width="1.9"/><path d="M587.9,130.8L584.2,139.6H591.6Z" fill="#111"/>
<path d="M601.6,143.6Q619.8,128.8 638,143.6" fill="none" stroke="#111" stroke-width="2" stroke-linecap="round"/><path d="M605.8,155.2Q619.7,143 633.5,155.2" fill="none" stroke="#111" stroke-width="2" stroke-linecap="round"/><path d="M610.5,165.7Q619.7,156.2 628.9,165.7" fill="none" stroke="#111" stroke-width="2" stroke-linecap="round"/>
<path d="M640.1,163.4L640.81,165.33L642.86,165.4L641.24,166.67L641.8,168.65L640.1,167.5L638.4,168.65L638.96,166.67L637.34,165.4L639.39,165.33Z" fill="#222"/>
<path d="M1019.2,152.5V183" stroke="#111" stroke-width="1.9"/><path d="M1019.2,189.4L1015.5,180.6H1022.9Z" fill="#111"/>
<path d="M976.9,157.4Q986.5,166 996.1,157.4" fill="none" stroke="#111" stroke-width="2" stroke-linecap="round"/><path d="M972.4,168.2Q986.2,180 1000,168.2" fill="none" stroke="#111" stroke-width="2" stroke-linecap="round"/><path d="M967.8,179.1Q986.2,196.4 1004.5,179.1" fill="none" stroke="#111" stroke-width="2" stroke-linecap="round"/>
<text x="812.9" y="142.2" font-size="12.4" fill="#303030" text-anchor="middle" textLength="69.8" lengthAdjust="spacingAndGlyphs">Single-mode</text>
<text x="813" y="158.6" font-size="12.4" fill="#303030" text-anchor="middle" textLength="23.7" lengthAdjust="spacingAndGlyphs">filter</text>
<text x="0" y="0" font-size="12.4" fill="#303030" text-anchor="middle" textLength="48.3" lengthAdjust="spacingAndGlyphs" transform="translate(582.2 292.5) rotate(-90)">BB mod.</text>
<text x="0" y="0" font-size="12.4" fill="#303030" text-anchor="middle" textLength="66" lengthAdjust="spacingAndGlyphs" transform="translate(707.8 278.8) rotate(-90)">Carrier gen.</text>
<text x="0" y="0" font-size="12.4" fill="#303030" text-anchor="middle" textLength="54" lengthAdjust="spacingAndGlyphs" transform="translate(787 329.5) rotate(-90)">OEO loop</text>
<text x="0" y="0" font-size="12.4" fill="#303030" text-anchor="middle" textLength="54" lengthAdjust="spacingAndGlyphs" transform="translate(846.8 329.5) rotate(-90)">OEO loop</text>
<text x="0" y="0" font-size="12.4" fill="#303030" text-anchor="middle" textLength="44.6" lengthAdjust="spacingAndGlyphs" transform="translate(920.4 283) rotate(-90)">LO gen.</text>
<text x="0" y="0" font-size="12.4" fill="#303030" text-anchor="middle" textLength="58.8" lengthAdjust="spacingAndGlyphs" transform="translate(1030.5 274.7) rotate(-90)">W–P conv.</text>
<text x="569.4" y="415.3" font-size="12.4" fill="#303030" textLength="25.4" lengthAdjust="spacingAndGlyphs">I sig.</text>
<text x="659.6" y="415.6" font-size="12.4" fill="#303030" textLength="31.6" lengthAdjust="spacingAndGlyphs">Q sig.</text>
<text x="567.2" y="451.8" font-size="12.4" fill="#303030" textLength="34.6" lengthAdjust="spacingAndGlyphs">1 0 1 1</text>
<text x="654.8" y="451.8" font-size="12.4" fill="#303030" textLength="35.7" lengthAdjust="spacingAndGlyphs">1 1 0 1</text>
<path d="M563.4,426.3H573.6V436.9H583.5V426.3H603.3M651.7,426.4H671.6V437.3H681.4V426.4H691.5" fill="none" stroke="#8a8a8a" stroke-width="1.2"/>
<path d="M610.5,418V367M641,418V367" stroke="#8a8a8a" stroke-width="1.1"/><path d="M610.5,360.5L607.6,368.5H613.4ZM641,360.5L638.1,368.5H643.9Z" fill="#8a8a8a"/>
<text x="558.2" y="512.5" font-size="12.4" fill="#303030" textLength="187.8" lengthAdjust="spacingAndGlyphs">On-chip photonic wireless system</text>
<text x="850.8" y="493.5" font-size="12.4" fill="#303030" textLength="58.9" lengthAdjust="spacingAndGlyphs">Local laser</text>
<text x="880.3" y="508.6" font-size="12.4" fill="#303030" text-anchor="middle" textLength="26.9" lengthAdjust="spacingAndGlyphs">input</text>
<g stroke="#8a8a8a" stroke-width="1.3" fill="none"><path d="M993.3,484.2H1070"/><path d="M1014.8,484.2V462.9H1055.1V484.2"/><path d="M1034.5,484.2V447"/><path d="M989.1,503.2L1009.5,480.6"/><path d="M1053.1,416.7L1039.6,435.6"/><path d="M1055.9,425.2H1068"/><path d="M1036.1,503.8H1067"/></g>
<g fill="#8a8a8a"><path d="M1076,484.2L1068,480.6V487.8Z"/><path d="M1034.5,440.5L1031,448.5H1038Z"/><path d="M1013.2,476.6L1005.6,480.5L1010.9,485.2Z"/><path d="M1036.1,439.9L1037,431.6L1042.6,435.7Z"/><path d="M1074,425.2L1066.5,421.6V428.8Z"/><path d="M1073.2,503.8L1065.2,500V507.6Z"/></g>
<text x="1054.9" y="415.8" font-size="12.4" fill="#303030" textLength="15.5" lengthAdjust="spacingAndGlyphs">LO</text>
<text x="996.2" y="436.5" font-size="12.4" fill="#303030" textLength="39" lengthAdjust="spacingAndGlyphs">Zero-IF</text>
<text x="996.2" y="449.3" font-size="12.4" fill="#303030" textLength="26.7" lengthAdjust="spacingAndGlyphs">align.</text>
<text x="943.8" y="515.6" font-size="12.4" fill="#303030" textLength="88.5" lengthAdjust="spacingAndGlyphs">Signal sideband</text>
</svg></body></html>
